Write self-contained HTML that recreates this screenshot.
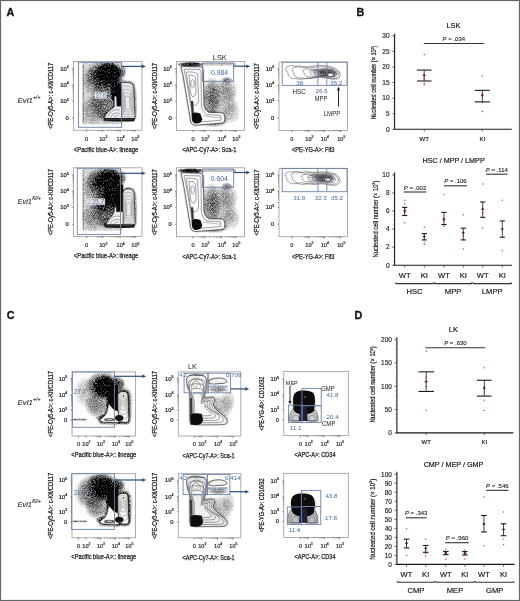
<!DOCTYPE html><html><head><meta charset="utf-8"><style>html,body{margin:0;padding:0;background:#fff;}svg{display:block;will-change:transform;filter:blur(0.3px);}text{font-family:"Liberation Sans",sans-serif;}</style></head><body>
<svg width="520" height="601" viewBox="0 0 520 601">
<defs>
<filter id="spk" x="0" y="0" width="1" height="1" color-interpolation-filters="sRGB">
<feTurbulence type="fractalNoise" baseFrequency="1.35" numOctaves="2" seed="7" result="n"/>
<feColorMatrix in="n" type="matrix" values="0 0 0 0 0  0 0 0 0 0  0 0 0 0 0  1.8 0 0 0 -0.4" result="na"/>
<feComposite in="SourceGraphic" in2="na" operator="arithmetic" k1="-1.1" k2="1.75" k3="0" k4="-0.08" result="c"/>
<feColorMatrix in="c" type="matrix" values="0 0 0 0 0  0 0 0 0 0  0 0 0 0 0  0 0 0 1 0"/>
</filter>
<radialGradient id="rg"><stop offset="0" stop-color="#000" stop-opacity="1"/><stop offset="0.55" stop-color="#000" stop-opacity="0.75"/><stop offset="1" stop-color="#000" stop-opacity="0"/></radialGradient>
<radialGradient id="rg2"><stop offset="0" stop-color="#000" stop-opacity="1"/><stop offset="0.6" stop-color="#000" stop-opacity="1"/><stop offset="1" stop-color="#000" stop-opacity="0"/></radialGradient>
<filter id="bl1" x="-20%" y="-20%" width="140%" height="140%"><feGaussianBlur stdDeviation="1"/></filter>
<filter id="bl2" x="-20%" y="-20%" width="140%" height="140%"><feGaussianBlur stdDeviation="2"/></filter>
<filter id="bl05" x="-20%" y="-20%" width="140%" height="140%"><feGaussianBlur stdDeviation="0.5"/></filter>
</defs>
<rect x="0" y="0" width="520" height="601" fill="#fff"/>
<text x="6.6" y="15.8" font-size="10.8" fill="#111" font-weight="bold" stroke="#111" stroke-width="0.3">A</text>
<text x="356.4" y="15.8" font-size="10.8" fill="#111" font-weight="bold" stroke="#111" stroke-width="0.3">B</text>
<text x="6.8" y="319.4" font-size="10.8" fill="#111" font-weight="bold" stroke="#111" stroke-width="0.3">C</text>
<text x="354.4" y="319.2" font-size="10.8" fill="#111" font-weight="bold" stroke="#111" stroke-width="0.3">D</text>
<clipPath id="cp1"><rect x="73.5" y="61.5" width="68.5" height="68.69999999999999"/></clipPath>
<g clip-path="url(#cp1)"><g filter="url(#spk)">
<rect x="82.5" y="62.5" width="40" height="62" fill="#000" opacity="0.2"/>
<rect x="82.5" y="63.0" width="1.4" height="60" fill="#000" opacity="0.25"/>
<ellipse cx="109" cy="74.0" rx="14" ry="12" fill="url(#rg2)" opacity="1.0"/>
<ellipse cx="106" cy="76.0" rx="20" ry="17" fill="url(#rg)" opacity="0.8"/>
<ellipse cx="115" cy="90.0" rx="5" ry="15" fill="url(#rg2)" opacity="1.0"/>
<ellipse cx="104" cy="100.0" rx="15" ry="22" fill="url(#rg)" opacity="0.45"/>
<ellipse cx="92" cy="80.0" rx="10" ry="16" fill="url(#rg)" opacity="0.3"/>
<ellipse cx="123" cy="71.0" rx="4" ry="7" fill="url(#rg)" opacity="0.45"/>
<ellipse cx="111" cy="116.0" rx="14" ry="7" fill="url(#rg)" opacity="0.45"/>
<ellipse cx="93" cy="110.0" rx="12" ry="15" fill="url(#rg)" opacity="0.3"/>
<ellipse cx="129" cy="100.0" rx="10" ry="24" fill="url(#rg)" opacity="0.3"/>
<path d="M 121.50 119.00 L 121.30 90.00 Q 120.50 84.00 121.00 83.00 Q 122.00 82.40 124.00 82.40 L 129.50 82.80 Q 133.00 83.20 133.60 87.00 L 135.00 116.00 Q 135.00 119.50 132.00 119.50 Z" fill="none" stroke="#000" stroke-width="2.2" opacity="0.6" filter="url(#bl1)"/>
<path d="M 104.30 119.40 Q 105.50 113.00 111.00 109.50 L 114.40 106.80 L 114.20 97.00 Q 115.40 95.00 116.60 97.00 L 116.90 106.20 L 121.50 106.00 L 121.50 119.40 Z" fill="none" stroke="#000" stroke-width="2.0" opacity="0.55" filter="url(#bl1)"/>
</g></g>
<path d="M 115.20 88.00 Q 116.00 84.00 119.50 83.50 L 121.50 84.00 L 121.50 106.50 L 116.80 106.50 L 116.60 96.00 Q 115.60 93.00 115.20 88.00 Z" fill="#0a0a0a"/>
<path d="M 121.50 119.00 L 121.30 90.00 Q 120.50 84.00 121.00 83.00 Q 122.00 82.40 124.00 82.40 L 129.50 82.80 Q 133.00 83.20 133.60 87.00 L 135.00 116.00 Q 135.00 119.50 132.00 119.50 Z" fill="#e9e9e9" stroke="#222" stroke-width="0.7"/>
<path d="M 104.30 119.40 Q 105.50 113.00 111.00 109.50 L 114.40 106.80 L 114.20 97.00 Q 115.40 95.00 116.60 97.00 L 116.90 106.20 L 121.50 106.00 L 121.50 119.40 Z" fill="#efefef" stroke="#222" stroke-width="0.6"/>
<path d="M 121.50 119.00 L 121.30 90.00 Q 120.50 84.00 121.00 83.00 Q 122.00 82.40 124.00 82.40 L 129.50 82.80 Q 133.00 83.20 133.60 87.00 L 135.00 116.00 Q 135.00 119.50 132.00 119.50 Z" fill="none" stroke="#777" stroke-width="0.45" vector-effect="non-scaling-stroke" transform="translate(127.50,104.00) scale(0.84) translate(-127.50,-104.00)"/>
<path d="M 121.50 119.00 L 121.30 90.00 Q 120.50 84.00 121.00 83.00 Q 122.00 82.40 124.00 82.40 L 129.50 82.80 Q 133.00 83.20 133.60 87.00 L 135.00 116.00 Q 135.00 119.50 132.00 119.50 Z" fill="none" stroke="#777" stroke-width="0.45" vector-effect="non-scaling-stroke" transform="translate(127.50,104.00) scale(0.68) translate(-127.50,-104.00)"/>
<path d="M 121.50 119.00 L 121.30 90.00 Q 120.50 84.00 121.00 83.00 Q 122.00 82.40 124.00 82.40 L 129.50 82.80 Q 133.00 83.20 133.60 87.00 L 135.00 116.00 Q 135.00 119.50 132.00 119.50 Z" fill="none" stroke="#777" stroke-width="0.45" vector-effect="non-scaling-stroke" transform="translate(127.50,104.00) scale(0.52) translate(-127.50,-104.00)"/>
<path d="M 121.50 119.00 L 121.30 90.00 Q 120.50 84.00 121.00 83.00 Q 122.00 82.40 124.00 82.40 L 129.50 82.80 Q 133.00 83.20 133.60 87.00 L 135.00 116.00 Q 135.00 119.50 132.00 119.50 Z" fill="none" stroke="#777" stroke-width="0.45" vector-effect="non-scaling-stroke" transform="translate(127.50,104.00) scale(0.36) translate(-127.50,-104.00)"/>
<path d="M 107.50 117.50 Q 109.00 112.00 114.00 110.00 Q 118.00 109.50 120.00 110.00" fill="none" stroke="#555" stroke-width="0.5"/>
<path d="M 110.50 117.50 Q 112.00 113.50 116.00 113.00 Q 119.00 113.00 120.00 114.00" fill="none" stroke="#555" stroke-width="0.5"/>
<path d="M 114.00 117.60 Q 115.50 115.50 118.00 115.50" fill="none" stroke="#555" stroke-width="0.5"/>
<path d="M 104.50 118.00 L 134.50 118.00 L 134.50 121.20 Q 120.00 122.20 104.50 120.60 Z" fill="#151515"/>
<path d="M 106.00 119.30 L 133.00 119.30" stroke="#777" stroke-width="0.4"/>
<rect x="73.5" y="61.5" width="68.5" height="68.69999999999999" fill="none" stroke="#9a9a9a" stroke-width="0.8"/>
<text x="68.70" y="70.69" font-size="5.8" fill="#222" stroke="#222" stroke-width="0.22" text-anchor="end">10<tspan font-size="3.60" dy="-2.44">5</tspan></text>
<line x1="72.0" y1="68.6" x2="73.5" y2="68.6" stroke="#555" stroke-width="0.6"/>
<text x="68.70" y="86.89" font-size="5.8" fill="#222" stroke="#222" stroke-width="0.22" text-anchor="end">10<tspan font-size="3.60" dy="-2.44">4</tspan></text>
<line x1="72.0" y1="84.8" x2="73.5" y2="84.8" stroke="#555" stroke-width="0.6"/>
<text x="68.70" y="103.09" font-size="5.8" fill="#222" stroke="#222" stroke-width="0.22" text-anchor="end">10<tspan font-size="3.60" dy="-2.44">3</tspan></text>
<line x1="72.0" y1="101.0" x2="73.5" y2="101.0" stroke="#555" stroke-width="0.6"/>
<text x="68.7" y="120.088" font-size="5.8" fill="#222" text-anchor="end" stroke="#222" stroke-width="0.22">0</text>
<line x1="72.0" y1="118.0" x2="73.5" y2="118.0" stroke="#555" stroke-width="0.6"/>
<text x="86.6" y="140.61599999999999" font-size="5.6" fill="#333" text-anchor="middle" stroke="#333" stroke-width="0.22">0</text>
<line x1="86.6" y1="130.2" x2="86.6" y2="131.79999999999998" stroke="#444" stroke-width="0.7"/>
<text x="99.15" y="140.62" font-size="5.6" fill="#333" stroke="#333" stroke-width="0.22">10<tspan font-size="3.36" dy="-2.35">3</tspan></text>
<line x1="102.8" y1="130.2" x2="102.8" y2="131.79999999999998" stroke="#444" stroke-width="0.7"/>
<text x="116.55" y="140.62" font-size="5.6" fill="#333" stroke="#333" stroke-width="0.22">10<tspan font-size="3.36" dy="-2.35">4</tspan></text>
<line x1="120.2" y1="130.2" x2="120.2" y2="131.79999999999998" stroke="#444" stroke-width="0.7"/>
<text x="131.35" y="140.62" font-size="5.6" fill="#333" stroke="#333" stroke-width="0.22">10<tspan font-size="3.36" dy="-2.35">5</tspan></text>
<line x1="135" y1="130.2" x2="135" y2="131.79999999999998" stroke="#444" stroke-width="0.7"/>
<path d="M108.04,130.20v1 M111.10,130.20v1 M113.28,130.20v1 M114.96,130.20v1 M116.34,130.20v1 M117.50,130.20v1 M118.51,130.20v1 M119.40,130.20v1 M73.50,96.12h-1 M73.50,93.27h-1 M73.50,91.25h-1 M73.50,89.68h-1 M73.50,88.39h-1 M73.50,87.31h-1 M73.50,86.37h-1 M73.50,85.54h-1 M124.66,130.20v1 M127.26,130.20v1 M129.11,130.20v1 M130.54,130.20v1 M131.72,130.20v1 M132.71,130.20v1 M133.57,130.20v1 M134.32,130.20v1 M73.50,79.92h-1 M73.50,77.07h-1 M73.50,75.05h-1 M73.50,73.48h-1 M73.50,72.19h-1 M73.50,71.11h-1 M73.50,70.17h-1 M73.50,69.34h-1 M97.56,130.20v1 M98.94,130.20v1 M100.10,130.20v1 M101.11,130.20v1 M102.00,130.20v1" stroke="#555" stroke-width="0.5" fill="none"/>
<text x="106.05" y="151.5" font-size="7.0" fill="#1a1a1a" text-anchor="middle" textLength="64.4" lengthAdjust="spacingAndGlyphs" stroke="#1a1a1a" stroke-width="0.25">&lt;Pacific blue-A&gt;: lineage</text>
<text transform="translate(50.80,95.85) rotate(-90)" x="0" y="2.38" font-size="6.6" fill="#1a1a1a" stroke="#1a1a1a" stroke-width="0.25" text-anchor="middle" textLength="66" lengthAdjust="spacingAndGlyphs">&lt;PE-Cy5-A&gt;: c-Kit/CD117</text>
<clipPath id="cp2"><rect x="176.5" y="61.5" width="68.0" height="68.9"/></clipPath>
<g clip-path="url(#cp2)"><g filter="url(#spk)">
<ellipse cx="211" cy="98.0" rx="10" ry="24" fill="url(#rg)" opacity="0.45"/>
<ellipse cx="221" cy="100.0" rx="17" ry="25" fill="url(#rg)" opacity="0.3"/>
<ellipse cx="228" cy="90.0" rx="12" ry="14" fill="url(#rg)" opacity="0.25"/>
<ellipse cx="232" cy="112.0" rx="10" ry="14" fill="url(#rg)" opacity="0.25"/>
<ellipse cx="214" cy="121.0" rx="16" ry="7" fill="url(#rg)" opacity="0.4"/>
<ellipse cx="227" cy="80.0" rx="6" ry="4" fill="url(#rg)" opacity="0.4"/>
<rect x="178" y="62.5" width="58" height="3.2" fill="#000" opacity="0.25"/>
<ellipse cx="191" cy="64.5" rx="14" ry="2.8" fill="url(#rg)" opacity="0.9"/>
<path d="M 181.20 66.50 L 201.50 67.00 Q 203.40 68.00 203.30 72.00 L 203.90 105.00 Q 204.60 110.50 209.00 112.40 L 222.00 112.80 Q 225.00 113.80 224.90 118.00 L 224.60 121.00 Q 224.20 123.20 220.50 123.20 L 196.00 125.20 Q 191.60 125.40 190.60 121.00 L 183.00 75.00 Q 181.00 69.00 181.20 66.50 Z" fill="none" stroke="#000" stroke-width="1.5" opacity="0.4" filter="url(#bl1)"/>
</g></g>
<path d="M 181.20 66.50 L 201.50 67.00 Q 203.40 68.00 203.30 72.00 L 203.90 105.00 Q 204.60 110.50 209.00 112.40 L 222.00 112.80 Q 225.00 113.80 224.90 118.00 L 224.60 121.00 Q 224.20 123.20 220.50 123.20 L 196.00 125.20 Q 191.60 125.40 190.60 121.00 L 183.00 75.00 Q 181.00 69.00 181.20 66.50 Z" fill="#fbfbfb" stroke="#222" stroke-width="0.65"/>
<path d="M 184.00 69.20 L 199.80 69.60 Q 201.00 70.50 201.00 74.00 L 201.40 105.00 Q 202.00 111.50 207.00 114.60 L 220.60 115.40 L 221.00 120.20 L 197.00 122.30 Q 193.60 122.30 193.00 118.50 L 185.60 76.00 Q 184.20 71.00 184.00 69.20 Z" fill="none" stroke="#555" stroke-width="0.55"/>
<path d="M 186.60 72.00 Q 195.00 71.40 197.60 74.00 L 198.60 100.00 Q 198.20 105.00 195.00 105.40 Q 191.20 105.00 190.60 100.00 L 186.90 78.00 Z" fill="none" stroke="#555" stroke-width="0.55"/>
<path d="M 189.00 75.20 Q 194.00 74.20 195.60 78.00 L 196.00 93.00 Q 195.20 97.00 193.00 97.00 Q 190.60 96.00 190.30 91.00 Z" fill="none" stroke="#555" stroke-width="0.55"/>
<ellipse cx="192.6" cy="83.5" rx="1.8" ry="4" fill="none" stroke="#555" stroke-width="0.55"/>
<path d="M 191.50 113.50 Q 195.00 111.60 200.40 113.80 L 202.30 119.20 Q 201.50 123.40 196.20 123.60 Q 192.20 123.60 191.80 118.60 Z" fill="#0d0d0d"/>
<path d="M 190.80 101.00 L 193.20 101.00 L 193.80 113.00 L 191.60 113.00 Z" fill="#333"/>
<path d="M 203.00 115.50 Q 212.00 117.40 220.00 117.80" fill="none" stroke="#777" stroke-width="0.5"/>
<rect x="176.5" y="61.5" width="68.0" height="68.9" fill="none" stroke="#9a9a9a" stroke-width="0.8"/>
<text x="171.70" y="70.69" font-size="5.8" fill="#222" stroke="#222" stroke-width="0.22" text-anchor="end">10<tspan font-size="3.60" dy="-2.44">5</tspan></text>
<line x1="175.0" y1="68.6" x2="176.5" y2="68.6" stroke="#555" stroke-width="0.6"/>
<text x="171.70" y="86.89" font-size="5.8" fill="#222" stroke="#222" stroke-width="0.22" text-anchor="end">10<tspan font-size="3.60" dy="-2.44">4</tspan></text>
<line x1="175.0" y1="84.8" x2="176.5" y2="84.8" stroke="#555" stroke-width="0.6"/>
<text x="171.70" y="103.09" font-size="5.8" fill="#222" stroke="#222" stroke-width="0.22" text-anchor="end">10<tspan font-size="3.60" dy="-2.44">3</tspan></text>
<line x1="175.0" y1="101.0" x2="176.5" y2="101.0" stroke="#555" stroke-width="0.6"/>
<text x="171.7" y="120.088" font-size="5.8" fill="#222" text-anchor="end" stroke="#222" stroke-width="0.22">0</text>
<line x1="175.0" y1="118.0" x2="176.5" y2="118.0" stroke="#555" stroke-width="0.6"/>
<text x="193" y="140.516" font-size="5.6" fill="#333" text-anchor="middle" stroke="#333" stroke-width="0.22">0</text>
<line x1="193" y1="130.4" x2="193" y2="132.0" stroke="#444" stroke-width="0.7"/>
<text x="201.35" y="140.52" font-size="5.6" fill="#333" stroke="#333" stroke-width="0.22">10<tspan font-size="3.36" dy="-2.35">3</tspan></text>
<line x1="205" y1="130.4" x2="205" y2="132.0" stroke="#444" stroke-width="0.7"/>
<text x="217.85" y="140.52" font-size="5.6" fill="#333" stroke="#333" stroke-width="0.22">10<tspan font-size="3.36" dy="-2.35">4</tspan></text>
<line x1="221.5" y1="130.4" x2="221.5" y2="132.0" stroke="#444" stroke-width="0.7"/>
<text x="232.35" y="140.52" font-size="5.6" fill="#333" stroke="#333" stroke-width="0.22">10<tspan font-size="3.36" dy="-2.35">5</tspan></text>
<line x1="236" y1="130.4" x2="236" y2="132.0" stroke="#444" stroke-width="0.7"/>
<path d="M209.97,130.40v1 M212.87,130.40v1 M214.93,130.40v1 M216.53,130.40v1 M217.84,130.40v1 M218.94,130.40v1 M219.90,130.40v1 M220.75,130.40v1 M176.50,96.12h-1 M176.50,93.27h-1 M176.50,91.25h-1 M176.50,89.68h-1 M176.50,88.39h-1 M176.50,87.31h-1 M176.50,86.37h-1 M176.50,85.54h-1 M225.86,130.40v1 M228.42,130.40v1 M230.23,130.40v1 M231.64,130.40v1 M232.78,130.40v1 M233.75,130.40v1 M234.59,130.40v1 M235.34,130.40v1 M176.50,79.92h-1 M176.50,77.07h-1 M176.50,75.05h-1 M176.50,73.48h-1 M176.50,72.19h-1 M176.50,71.11h-1 M176.50,70.17h-1 M176.50,69.34h-1 M200.03,130.40v1 M201.34,130.40v1 M202.44,130.40v1 M203.40,130.40v1 M204.25,130.40v1" stroke="#555" stroke-width="0.5" fill="none"/>
<text x="209.4" y="152.1" font-size="7.0" fill="#1a1a1a" text-anchor="middle" textLength="54" lengthAdjust="spacingAndGlyphs" stroke="#1a1a1a" stroke-width="0.25">&lt;APC-Cy7-A&gt;: Sca-1</text>
<text transform="translate(154.40,95.95) rotate(-90)" x="0" y="2.38" font-size="6.6" fill="#1a1a1a" stroke="#1a1a1a" stroke-width="0.25" text-anchor="middle" textLength="66" lengthAdjust="spacingAndGlyphs">&lt;PE-Cy5-A&gt;: c-Kit/CD117</text>
<clipPath id="cp3"><rect x="279" y="62.0" width="68.5" height="68.4"/></clipPath>
<g clip-path="url(#cp3)"><g filter="url(#spk)">
<ellipse cx="328" cy="73.0" rx="12" ry="6" fill="url(#rg)" opacity="0.6"/>
<ellipse cx="318" cy="72.0" rx="9" ry="5" fill="url(#rg)" opacity="0.3"/>
</g></g>
<path d="M 285.60 69.00 Q 286.00 65.60 290.00 66.00 Q 293.00 64.60 296.00 66.60 Q 300.00 65.00 304.00 67.00 L 312.00 66.20 Q 320.00 64.60 328.00 66.00 Q 336.00 67.60 339.50 72.00 Q 341.50 76.50 338.00 78.80 Q 333.00 80.20 327.00 78.20 L 318.00 77.20 Q 310.00 79.20 305.00 78.60 Q 299.00 80.20 296.00 78.60 Q 292.00 79.60 290.00 77.20 Q 287.00 75.00 288.00 72.40 Q 285.60 71.00 285.60 69.00 Z" fill="none" stroke="#555" stroke-width="0.55"/>
<path d="M 285.60 69.00 Q 286.00 65.60 290.00 66.00 Q 293.00 64.60 296.00 66.60 Q 300.00 65.00 304.00 67.00 L 312.00 66.20 Q 320.00 64.60 328.00 66.00 Q 336.00 67.60 339.50 72.00 Q 341.50 76.50 338.00 78.80 Q 333.00 80.20 327.00 78.20 L 318.00 77.20 Q 310.00 79.20 305.00 78.60 Q 299.00 80.20 296.00 78.60 Q 292.00 79.60 290.00 77.20 Q 287.00 75.00 288.00 72.40 Q 285.60 71.00 285.60 69.00 Z" fill="none" stroke="#444" stroke-width="0.5" vector-effect="non-scaling-stroke" transform="translate(331.00,74.00) scale(0.86) translate(-331.00,-74.00)"/>
<path d="M 285.60 69.00 Q 286.00 65.60 290.00 66.00 Q 293.00 64.60 296.00 66.60 Q 300.00 65.00 304.00 67.00 L 312.00 66.20 Q 320.00 64.60 328.00 66.00 Q 336.00 67.60 339.50 72.00 Q 341.50 76.50 338.00 78.80 Q 333.00 80.20 327.00 78.20 L 318.00 77.20 Q 310.00 79.20 305.00 78.60 Q 299.00 80.20 296.00 78.60 Q 292.00 79.60 290.00 77.20 Q 287.00 75.00 288.00 72.40 Q 285.60 71.00 285.60 69.00 Z" fill="none" stroke="#444" stroke-width="0.5" vector-effect="non-scaling-stroke" transform="translate(331.00,74.00) scale(0.62) translate(-331.00,-74.00)"/>
<path d="M 285.60 69.00 Q 286.00 65.60 290.00 66.00 Q 293.00 64.60 296.00 66.60 Q 300.00 65.00 304.00 67.00 L 312.00 66.20 Q 320.00 64.60 328.00 66.00 Q 336.00 67.60 339.50 72.00 Q 341.50 76.50 338.00 78.80 Q 333.00 80.20 327.00 78.20 L 318.00 77.20 Q 310.00 79.20 305.00 78.60 Q 299.00 80.20 296.00 78.60 Q 292.00 79.60 290.00 77.20 Q 287.00 75.00 288.00 72.40 Q 285.60 71.00 285.60 69.00 Z" fill="none" stroke="#444" stroke-width="0.5" vector-effect="non-scaling-stroke" transform="translate(331.00,74.00) scale(0.47) translate(-331.00,-74.00)"/>
<path d="M 285.60 69.00 Q 286.00 65.60 290.00 66.00 Q 293.00 64.60 296.00 66.60 Q 300.00 65.00 304.00 67.00 L 312.00 66.20 Q 320.00 64.60 328.00 66.00 Q 336.00 67.60 339.50 72.00 Q 341.50 76.50 338.00 78.80 Q 333.00 80.20 327.00 78.20 L 318.00 77.20 Q 310.00 79.20 305.00 78.60 Q 299.00 80.20 296.00 78.60 Q 292.00 79.60 290.00 77.20 Q 287.00 75.00 288.00 72.40 Q 285.60 71.00 285.60 69.00 Z" fill="none" stroke="#444" stroke-width="0.5" vector-effect="non-scaling-stroke" transform="translate(331.00,74.00) scale(0.37) translate(-331.00,-74.00)"/>
<path d="M 285.60 69.00 Q 286.00 65.60 290.00 66.00 Q 293.00 64.60 296.00 66.60 Q 300.00 65.00 304.00 67.00 L 312.00 66.20 Q 320.00 64.60 328.00 66.00 Q 336.00 67.60 339.50 72.00 Q 341.50 76.50 338.00 78.80 Q 333.00 80.20 327.00 78.20 L 318.00 77.20 Q 310.00 79.20 305.00 78.60 Q 299.00 80.20 296.00 78.60 Q 292.00 79.60 290.00 77.20 Q 287.00 75.00 288.00 72.40 Q 285.60 71.00 285.60 69.00 Z" fill="none" stroke="#444" stroke-width="0.5" vector-effect="non-scaling-stroke" transform="translate(331.00,74.00) scale(0.29) translate(-331.00,-74.00)"/>
<path d="M 285.60 69.00 Q 286.00 65.60 290.00 66.00 Q 293.00 64.60 296.00 66.60 Q 300.00 65.00 304.00 67.00 L 312.00 66.20 Q 320.00 64.60 328.00 66.00 Q 336.00 67.60 339.50 72.00 Q 341.50 76.50 338.00 78.80 Q 333.00 80.20 327.00 78.20 L 318.00 77.20 Q 310.00 79.20 305.00 78.60 Q 299.00 80.20 296.00 78.60 Q 292.00 79.60 290.00 77.20 Q 287.00 75.00 288.00 72.40 Q 285.60 71.00 285.60 69.00 Z" fill="none" stroke="#444" stroke-width="0.5" vector-effect="non-scaling-stroke" transform="translate(331.00,74.00) scale(0.23) translate(-331.00,-74.00)"/>
<path d="M 285.60 69.00 Q 286.00 65.60 290.00 66.00 Q 293.00 64.60 296.00 66.60 Q 300.00 65.00 304.00 67.00 L 312.00 66.20 Q 320.00 64.60 328.00 66.00 Q 336.00 67.60 339.50 72.00 Q 341.50 76.50 338.00 78.80 Q 333.00 80.20 327.00 78.20 L 318.00 77.20 Q 310.00 79.20 305.00 78.60 Q 299.00 80.20 296.00 78.60 Q 292.00 79.60 290.00 77.20 Q 287.00 75.00 288.00 72.40 Q 285.60 71.00 285.60 69.00 Z" fill="none" stroke="#444" stroke-width="0.5" vector-effect="non-scaling-stroke" transform="translate(331.00,74.00) scale(0.18) translate(-331.00,-74.00)"/>
<path d="M 285.60 69.00 Q 286.00 65.60 290.00 66.00 Q 293.00 64.60 296.00 66.60 Q 300.00 65.00 304.00 67.00 L 312.00 66.20 Q 320.00 64.60 328.00 66.00 Q 336.00 67.60 339.50 72.00 Q 341.50 76.50 338.00 78.80 Q 333.00 80.20 327.00 78.20 L 318.00 77.20 Q 310.00 79.20 305.00 78.60 Q 299.00 80.20 296.00 78.60 Q 292.00 79.60 290.00 77.20 Q 287.00 75.00 288.00 72.40 Q 285.60 71.00 285.60 69.00 Z" fill="none" stroke="#444" stroke-width="0.5" vector-effect="non-scaling-stroke" transform="translate(331.00,74.00) scale(0.14) translate(-331.00,-74.00)"/>
<ellipse cx="330.5" cy="74.8" rx="2.6" ry="1.2" fill="#fff"/>
<rect x="279" y="62.0" width="68.5" height="68.4" fill="none" stroke="#9a9a9a" stroke-width="0.8"/>
<text x="274.20" y="70.69" font-size="5.8" fill="#222" stroke="#222" stroke-width="0.22" text-anchor="end">10<tspan font-size="3.60" dy="-2.44">5</tspan></text>
<line x1="277.5" y1="68.6" x2="279" y2="68.6" stroke="#555" stroke-width="0.6"/>
<text x="274.20" y="86.89" font-size="5.8" fill="#222" stroke="#222" stroke-width="0.22" text-anchor="end">10<tspan font-size="3.60" dy="-2.44">4</tspan></text>
<line x1="277.5" y1="84.8" x2="279" y2="84.8" stroke="#555" stroke-width="0.6"/>
<text x="274.20" y="103.09" font-size="5.8" fill="#222" stroke="#222" stroke-width="0.22" text-anchor="end">10<tspan font-size="3.60" dy="-2.44">3</tspan></text>
<line x1="277.5" y1="101.0" x2="279" y2="101.0" stroke="#555" stroke-width="0.6"/>
<text x="274.2" y="120.088" font-size="5.8" fill="#222" text-anchor="end" stroke="#222" stroke-width="0.22">0</text>
<line x1="277.5" y1="118.0" x2="279" y2="118.0" stroke="#555" stroke-width="0.6"/>
<text x="291.7" y="140.516" font-size="5.6" fill="#333" text-anchor="middle" stroke="#333" stroke-width="0.22">0</text>
<line x1="291.7" y1="130.4" x2="291.7" y2="132.0" stroke="#444" stroke-width="0.7"/>
<text x="305.35" y="140.52" font-size="5.6" fill="#333" stroke="#333" stroke-width="0.22">10<tspan font-size="3.36" dy="-2.35">3</tspan></text>
<line x1="309" y1="130.4" x2="309" y2="132.0" stroke="#444" stroke-width="0.7"/>
<text x="320.75" y="140.52" font-size="5.6" fill="#333" stroke="#333" stroke-width="0.22">10<tspan font-size="3.36" dy="-2.35">4</tspan></text>
<line x1="324.4" y1="130.4" x2="324.4" y2="132.0" stroke="#444" stroke-width="0.7"/>
<text x="337.15" y="140.52" font-size="5.6" fill="#333" stroke="#333" stroke-width="0.22">10<tspan font-size="3.36" dy="-2.35">5</tspan></text>
<line x1="340.8" y1="130.4" x2="340.8" y2="132.0" stroke="#444" stroke-width="0.7"/>
<path d="M313.64,130.40v1 M316.35,130.40v1 M318.27,130.40v1 M319.76,130.40v1 M320.98,130.40v1 M322.01,130.40v1 M322.91,130.40v1 M323.70,130.40v1 M279.00,96.12h-1 M279.00,93.27h-1 M279.00,91.25h-1 M279.00,89.68h-1 M279.00,88.39h-1 M279.00,87.31h-1 M279.00,86.37h-1 M279.00,85.54h-1 M329.34,130.40v1 M332.22,130.40v1 M334.27,130.40v1 M335.86,130.40v1 M337.16,130.40v1 M338.26,130.40v1 M339.21,130.40v1 M340.05,130.40v1 M279.00,79.92h-1 M279.00,77.07h-1 M279.00,75.05h-1 M279.00,73.48h-1 M279.00,72.19h-1 M279.00,71.11h-1 M279.00,70.17h-1 M279.00,69.34h-1 M304.36,130.40v1 M305.58,130.40v1 M306.61,130.40v1 M307.51,130.40v1 M308.30,130.40v1" stroke="#555" stroke-width="0.5" fill="none"/>
<text x="313.25" y="152.1" font-size="7.0" fill="#1a1a1a" text-anchor="middle" textLength="42.5" lengthAdjust="spacingAndGlyphs" stroke="#1a1a1a" stroke-width="0.25">&lt;PE-YG-A&gt;: Flt3</text>
<text transform="translate(256.50,96.20) rotate(-90)" x="0" y="2.38" font-size="6.6" fill="#1a1a1a" stroke="#1a1a1a" stroke-width="0.25" text-anchor="middle" textLength="66" lengthAdjust="spacingAndGlyphs">&lt;PE-Cy5-A&gt;: c-Kit/CD117</text>
<clipPath id="cp4"><rect x="73.5" y="167.8" width="68.5" height="68.69999999999999"/></clipPath>
<g clip-path="url(#cp4)"><g filter="url(#spk)">
<rect x="82.5" y="168.8" width="40" height="62" fill="#000" opacity="0.2"/>
<rect x="82.5" y="169.3" width="1.4" height="60" fill="#000" opacity="0.25"/>
<ellipse cx="109" cy="180.3" rx="14" ry="12" fill="url(#rg2)" opacity="1.0"/>
<ellipse cx="106" cy="182.3" rx="20" ry="17" fill="url(#rg)" opacity="0.8"/>
<ellipse cx="115" cy="196.3" rx="5" ry="15" fill="url(#rg2)" opacity="1.0"/>
<ellipse cx="104" cy="206.3" rx="15" ry="22" fill="url(#rg)" opacity="0.45"/>
<ellipse cx="92" cy="186.3" rx="10" ry="16" fill="url(#rg)" opacity="0.3"/>
<ellipse cx="123" cy="177.3" rx="4" ry="7" fill="url(#rg)" opacity="0.45"/>
<ellipse cx="111" cy="222.3" rx="14" ry="7" fill="url(#rg)" opacity="0.45"/>
<ellipse cx="93" cy="216.3" rx="12" ry="15" fill="url(#rg)" opacity="0.3"/>
<ellipse cx="129" cy="206.3" rx="10" ry="24" fill="url(#rg)" opacity="0.3"/>
<path d="M 123.00 225.80 L 122.80 193.30 Q 123.30 189.10 127.00 188.90 L 130.50 189.10 Q 133.60 189.80 134.00 193.30 L 135.20 222.30 Q 135.20 225.90 132.00 225.90 Z" fill="none" stroke="#000" stroke-width="2.2" opacity="0.6" filter="url(#bl1)"/>
<path d="M 105.50 225.70 Q 107.00 219.80 112.00 215.80 L 114.20 211.90 L 114.40 207.80 Q 115.30 206.30 116.30 207.80 L 116.50 211.70 L 123.00 211.50 L 123.00 225.70 Z" fill="none" stroke="#000" stroke-width="2.0" opacity="0.55" filter="url(#bl1)"/>
<ellipse cx="112" cy="194.3" rx="9" ry="14" fill="url(#rg2)" opacity="1.0"/>
<ellipse cx="106" cy="202.3" rx="12" ry="14" fill="url(#rg)" opacity="0.6"/>
</g></g>
<path d="M 114.50 198.30 Q 115.00 186.30 120.00 184.30 L 123.20 184.80 L 123.20 212.30 L 116.60 212.30 L 116.40 206.30 Q 114.80 203.30 114.50 198.30 Z" fill="#0a0a0a"/>
<path d="M 123.00 225.80 L 122.80 193.30 Q 123.30 189.10 127.00 188.90 L 130.50 189.10 Q 133.60 189.80 134.00 193.30 L 135.20 222.30 Q 135.20 225.90 132.00 225.90 Z" fill="#e9e9e9" stroke="#222" stroke-width="0.7"/>
<path d="M 105.50 225.70 Q 107.00 219.80 112.00 215.80 L 114.20 211.90 L 114.40 207.80 Q 115.30 206.30 116.30 207.80 L 116.50 211.70 L 123.00 211.50 L 123.00 225.70 Z" fill="#efefef" stroke="#222" stroke-width="0.6"/>
<path d="M 123.00 225.80 L 122.80 193.30 Q 123.30 189.10 127.00 188.90 L 130.50 189.10 Q 133.60 189.80 134.00 193.30 L 135.20 222.30 Q 135.20 225.90 132.00 225.90 Z" fill="none" stroke="#777" stroke-width="0.45" vector-effect="non-scaling-stroke" transform="translate(128.80,210.30) scale(0.84) translate(-128.80,-210.30)"/>
<path d="M 123.00 225.80 L 122.80 193.30 Q 123.30 189.10 127.00 188.90 L 130.50 189.10 Q 133.60 189.80 134.00 193.30 L 135.20 222.30 Q 135.20 225.90 132.00 225.90 Z" fill="none" stroke="#777" stroke-width="0.45" vector-effect="non-scaling-stroke" transform="translate(128.80,210.30) scale(0.68) translate(-128.80,-210.30)"/>
<path d="M 123.00 225.80 L 122.80 193.30 Q 123.30 189.10 127.00 188.90 L 130.50 189.10 Q 133.60 189.80 134.00 193.30 L 135.20 222.30 Q 135.20 225.90 132.00 225.90 Z" fill="none" stroke="#777" stroke-width="0.45" vector-effect="non-scaling-stroke" transform="translate(128.80,210.30) scale(0.52) translate(-128.80,-210.30)"/>
<path d="M 123.00 225.80 L 122.80 193.30 Q 123.30 189.10 127.00 188.90 L 130.50 189.10 Q 133.60 189.80 134.00 193.30 L 135.20 222.30 Q 135.20 225.90 132.00 225.90 Z" fill="none" stroke="#777" stroke-width="0.45" vector-effect="non-scaling-stroke" transform="translate(128.80,210.30) scale(0.36) translate(-128.80,-210.30)"/>
<path d="M 107.50 223.80 Q 109.00 218.30 114.00 216.30 Q 118.00 215.80 120.00 216.30" fill="none" stroke="#555" stroke-width="0.5"/>
<path d="M 110.50 223.80 Q 112.00 219.80 116.00 219.30 Q 119.00 219.30 120.00 220.30" fill="none" stroke="#555" stroke-width="0.5"/>
<path d="M 114.00 223.90 Q 115.50 221.80 118.00 221.80" fill="none" stroke="#555" stroke-width="0.5"/>
<path d="M 104.50 224.30 L 134.50 224.30 L 134.50 227.50 Q 120.00 228.50 104.50 226.90 Z" fill="#151515"/>
<path d="M 106.00 225.60 L 133.00 225.60" stroke="#777" stroke-width="0.4"/>
<rect x="73.5" y="167.8" width="68.5" height="68.69999999999999" fill="none" stroke="#9a9a9a" stroke-width="0.8"/>
<text x="68.70" y="176.99" font-size="5.8" fill="#222" stroke="#222" stroke-width="0.22" text-anchor="end">10<tspan font-size="3.60" dy="-2.44">5</tspan></text>
<line x1="72.0" y1="174.89999999999998" x2="73.5" y2="174.89999999999998" stroke="#555" stroke-width="0.6"/>
<text x="68.70" y="193.19" font-size="5.8" fill="#222" stroke="#222" stroke-width="0.22" text-anchor="end">10<tspan font-size="3.60" dy="-2.44">4</tspan></text>
<line x1="72.0" y1="191.1" x2="73.5" y2="191.1" stroke="#555" stroke-width="0.6"/>
<text x="68.70" y="209.39" font-size="5.8" fill="#222" stroke="#222" stroke-width="0.22" text-anchor="end">10<tspan font-size="3.60" dy="-2.44">3</tspan></text>
<line x1="72.0" y1="207.3" x2="73.5" y2="207.3" stroke="#555" stroke-width="0.6"/>
<text x="68.7" y="226.388" font-size="5.8" fill="#222" text-anchor="end" stroke="#222" stroke-width="0.22">0</text>
<line x1="72.0" y1="224.3" x2="73.5" y2="224.3" stroke="#555" stroke-width="0.6"/>
<text x="86.6" y="246.91599999999997" font-size="5.6" fill="#333" text-anchor="middle" stroke="#333" stroke-width="0.22">0</text>
<line x1="86.6" y1="236.5" x2="86.6" y2="238.1" stroke="#444" stroke-width="0.7"/>
<text x="99.15" y="246.92" font-size="5.6" fill="#333" stroke="#333" stroke-width="0.22">10<tspan font-size="3.36" dy="-2.35">3</tspan></text>
<line x1="102.8" y1="236.5" x2="102.8" y2="238.1" stroke="#444" stroke-width="0.7"/>
<text x="116.55" y="246.92" font-size="5.6" fill="#333" stroke="#333" stroke-width="0.22">10<tspan font-size="3.36" dy="-2.35">4</tspan></text>
<line x1="120.2" y1="236.5" x2="120.2" y2="238.1" stroke="#444" stroke-width="0.7"/>
<text x="131.35" y="246.92" font-size="5.6" fill="#333" stroke="#333" stroke-width="0.22">10<tspan font-size="3.36" dy="-2.35">5</tspan></text>
<line x1="135" y1="236.5" x2="135" y2="238.1" stroke="#444" stroke-width="0.7"/>
<path d="M108.04,236.50v1 M111.10,236.50v1 M113.28,236.50v1 M114.96,236.50v1 M116.34,236.50v1 M117.50,236.50v1 M118.51,236.50v1 M119.40,236.50v1 M73.50,202.42h-1 M73.50,199.57h-1 M73.50,197.55h-1 M73.50,195.98h-1 M73.50,194.69h-1 M73.50,193.61h-1 M73.50,192.67h-1 M73.50,191.84h-1 M124.66,236.50v1 M127.26,236.50v1 M129.11,236.50v1 M130.54,236.50v1 M131.72,236.50v1 M132.71,236.50v1 M133.57,236.50v1 M134.32,236.50v1 M73.50,186.22h-1 M73.50,183.37h-1 M73.50,181.35h-1 M73.50,179.78h-1 M73.50,178.49h-1 M73.50,177.41h-1 M73.50,176.47h-1 M73.50,175.64h-1 M97.56,236.50v1 M98.94,236.50v1 M100.10,236.50v1 M101.11,236.50v1 M102.00,236.50v1" stroke="#555" stroke-width="0.5" fill="none"/>
<text x="106.05" y="258.2" font-size="7.0" fill="#1a1a1a" text-anchor="middle" textLength="64.4" lengthAdjust="spacingAndGlyphs" stroke="#1a1a1a" stroke-width="0.25">&lt;Pacific blue-A&gt;: lineage</text>
<text transform="translate(50.80,202.15) rotate(-90)" x="0" y="2.38" font-size="6.6" fill="#1a1a1a" stroke="#1a1a1a" stroke-width="0.25" text-anchor="middle" textLength="66" lengthAdjust="spacingAndGlyphs">&lt;PE-Cy5-A&gt;: c-Kit/CD117</text>
<clipPath id="cp5"><rect x="176.5" y="167.8" width="68.0" height="68.89999999999998"/></clipPath>
<g clip-path="url(#cp5)"><g filter="url(#spk)">
<ellipse cx="211" cy="204.3" rx="10" ry="24" fill="url(#rg)" opacity="0.45"/>
<ellipse cx="221" cy="206.3" rx="17" ry="25" fill="url(#rg)" opacity="0.3"/>
<ellipse cx="228" cy="196.3" rx="12" ry="14" fill="url(#rg)" opacity="0.25"/>
<ellipse cx="232" cy="218.3" rx="10" ry="14" fill="url(#rg)" opacity="0.25"/>
<ellipse cx="214" cy="227.3" rx="16" ry="7" fill="url(#rg)" opacity="0.4"/>
<ellipse cx="227" cy="186.3" rx="6" ry="4" fill="url(#rg)" opacity="0.4"/>
<rect x="178" y="168.8" width="58" height="3.2" fill="#000" opacity="0.25"/>
<ellipse cx="191" cy="170.8" rx="14" ry="2.8" fill="url(#rg)" opacity="0.9"/>
<path d="M 181.20 172.80 L 201.50 173.30 Q 203.40 174.30 203.30 178.30 L 203.90 211.30 Q 204.60 216.80 209.00 218.70 L 222.00 219.10 Q 225.00 220.10 224.90 224.30 L 224.60 227.30 Q 224.20 229.50 220.50 229.50 L 196.00 231.50 Q 191.60 231.70 190.60 227.30 L 183.00 181.30 Q 181.00 175.30 181.20 172.80 Z" fill="none" stroke="#000" stroke-width="1.5" opacity="0.4" filter="url(#bl1)"/>
</g></g>
<path d="M 181.20 172.80 L 201.50 173.30 Q 203.40 174.30 203.30 178.30 L 203.90 211.30 Q 204.60 216.80 209.00 218.70 L 222.00 219.10 Q 225.00 220.10 224.90 224.30 L 224.60 227.30 Q 224.20 229.50 220.50 229.50 L 196.00 231.50 Q 191.60 231.70 190.60 227.30 L 183.00 181.30 Q 181.00 175.30 181.20 172.80 Z" fill="#fbfbfb" stroke="#222" stroke-width="0.65"/>
<path d="M 184.00 175.50 L 199.80 175.90 Q 201.00 176.80 201.00 180.30 L 201.40 211.30 Q 202.00 217.80 207.00 220.90 L 220.60 221.70 L 221.00 226.50 L 197.00 228.60 Q 193.60 228.60 193.00 224.80 L 185.60 182.30 Q 184.20 177.30 184.00 175.50 Z" fill="none" stroke="#555" stroke-width="0.55"/>
<path d="M 186.60 178.30 Q 195.00 177.70 197.60 180.30 L 198.60 206.30 Q 198.20 211.30 195.00 211.70 Q 191.20 211.30 190.60 206.30 L 186.90 184.30 Z" fill="none" stroke="#555" stroke-width="0.55"/>
<path d="M 189.00 181.50 Q 194.00 180.50 195.60 184.30 L 196.00 199.30 Q 195.20 203.30 193.00 203.30 Q 190.60 202.30 190.30 197.30 Z" fill="none" stroke="#555" stroke-width="0.55"/>
<ellipse cx="192.6" cy="189.8" rx="1.8" ry="4" fill="none" stroke="#555" stroke-width="0.55"/>
<path d="M 191.50 219.80 Q 195.00 217.90 200.40 220.10 L 202.30 225.50 Q 201.50 229.70 196.20 229.90 Q 192.20 229.90 191.80 224.90 Z" fill="#0d0d0d"/>
<path d="M 190.80 207.30 L 193.20 207.30 L 193.80 219.30 L 191.60 219.30 Z" fill="#333"/>
<path d="M 203.00 221.80 Q 212.00 223.70 220.00 224.10" fill="none" stroke="#777" stroke-width="0.5"/>
<rect x="176.5" y="167.8" width="68.0" height="68.89999999999998" fill="none" stroke="#9a9a9a" stroke-width="0.8"/>
<text x="171.70" y="176.99" font-size="5.8" fill="#222" stroke="#222" stroke-width="0.22" text-anchor="end">10<tspan font-size="3.60" dy="-2.44">5</tspan></text>
<line x1="175.0" y1="174.89999999999998" x2="176.5" y2="174.89999999999998" stroke="#555" stroke-width="0.6"/>
<text x="171.70" y="193.19" font-size="5.8" fill="#222" stroke="#222" stroke-width="0.22" text-anchor="end">10<tspan font-size="3.60" dy="-2.44">4</tspan></text>
<line x1="175.0" y1="191.1" x2="176.5" y2="191.1" stroke="#555" stroke-width="0.6"/>
<text x="171.70" y="209.39" font-size="5.8" fill="#222" stroke="#222" stroke-width="0.22" text-anchor="end">10<tspan font-size="3.60" dy="-2.44">3</tspan></text>
<line x1="175.0" y1="207.3" x2="176.5" y2="207.3" stroke="#555" stroke-width="0.6"/>
<text x="171.7" y="226.388" font-size="5.8" fill="#222" text-anchor="end" stroke="#222" stroke-width="0.22">0</text>
<line x1="175.0" y1="224.3" x2="176.5" y2="224.3" stroke="#555" stroke-width="0.6"/>
<text x="193" y="246.816" font-size="5.6" fill="#333" text-anchor="middle" stroke="#333" stroke-width="0.22">0</text>
<line x1="193" y1="236.7" x2="193" y2="238.29999999999998" stroke="#444" stroke-width="0.7"/>
<text x="201.35" y="246.82" font-size="5.6" fill="#333" stroke="#333" stroke-width="0.22">10<tspan font-size="3.36" dy="-2.35">3</tspan></text>
<line x1="205" y1="236.7" x2="205" y2="238.29999999999998" stroke="#444" stroke-width="0.7"/>
<text x="217.85" y="246.82" font-size="5.6" fill="#333" stroke="#333" stroke-width="0.22">10<tspan font-size="3.36" dy="-2.35">4</tspan></text>
<line x1="221.5" y1="236.7" x2="221.5" y2="238.29999999999998" stroke="#444" stroke-width="0.7"/>
<text x="232.35" y="246.82" font-size="5.6" fill="#333" stroke="#333" stroke-width="0.22">10<tspan font-size="3.36" dy="-2.35">5</tspan></text>
<line x1="236" y1="236.7" x2="236" y2="238.29999999999998" stroke="#444" stroke-width="0.7"/>
<path d="M209.97,236.70v1 M212.87,236.70v1 M214.93,236.70v1 M216.53,236.70v1 M217.84,236.70v1 M218.94,236.70v1 M219.90,236.70v1 M220.75,236.70v1 M176.50,202.42h-1 M176.50,199.57h-1 M176.50,197.55h-1 M176.50,195.98h-1 M176.50,194.69h-1 M176.50,193.61h-1 M176.50,192.67h-1 M176.50,191.84h-1 M225.86,236.70v1 M228.42,236.70v1 M230.23,236.70v1 M231.64,236.70v1 M232.78,236.70v1 M233.75,236.70v1 M234.59,236.70v1 M235.34,236.70v1 M176.50,186.22h-1 M176.50,183.37h-1 M176.50,181.35h-1 M176.50,179.78h-1 M176.50,178.49h-1 M176.50,177.41h-1 M176.50,176.47h-1 M176.50,175.64h-1 M200.03,236.70v1 M201.34,236.70v1 M202.44,236.70v1 M203.40,236.70v1 M204.25,236.70v1" stroke="#555" stroke-width="0.5" fill="none"/>
<text x="209.4" y="258.8" font-size="7.0" fill="#1a1a1a" text-anchor="middle" textLength="54" lengthAdjust="spacingAndGlyphs" stroke="#1a1a1a" stroke-width="0.25">&lt;APC-Cy7-A&gt;: Sca-1</text>
<text transform="translate(154.40,202.25) rotate(-90)" x="0" y="2.38" font-size="6.6" fill="#1a1a1a" stroke="#1a1a1a" stroke-width="0.25" text-anchor="middle" textLength="66" lengthAdjust="spacingAndGlyphs">&lt;PE-Cy5-A&gt;: c-Kit/CD117</text>
<clipPath id="cp6"><rect x="279" y="168.3" width="68.5" height="68.39999999999998"/></clipPath>
<g clip-path="url(#cp6)"><g filter="url(#spk)">
<ellipse cx="325" cy="177.8" rx="12" ry="6" fill="url(#rg)" opacity="0.6"/>
<ellipse cx="315" cy="176.8" rx="9" ry="5" fill="url(#rg)" opacity="0.3"/>
</g></g>
<path d="M 285.00 174.30 Q 287.00 170.80 292.00 172.10 Q 297.00 170.30 301.00 172.50 Q 306.00 170.80 312.00 172.30 L 320.00 171.90 Q 330.00 171.30 336.00 174.30 Q 341.00 177.30 340.00 181.80 Q 338.00 185.80 332.00 185.30 L 322.00 183.80 Q 314.00 185.10 307.00 183.90 Q 301.00 185.30 297.00 183.30 Q 291.00 184.80 288.50 181.80 Q 285.60 179.30 286.80 177.30 Q 284.60 176.30 285.00 174.30 Z" fill="none" stroke="#555" stroke-width="0.55"/>
<path d="M 285.00 174.30 Q 287.00 170.80 292.00 172.10 Q 297.00 170.30 301.00 172.50 Q 306.00 170.80 312.00 172.30 L 320.00 171.90 Q 330.00 171.30 336.00 174.30 Q 341.00 177.30 340.00 181.80 Q 338.00 185.80 332.00 185.30 L 322.00 183.80 Q 314.00 185.10 307.00 183.90 Q 301.00 185.30 297.00 183.30 Q 291.00 184.80 288.50 181.80 Q 285.60 179.30 286.80 177.30 Q 284.60 176.30 285.00 174.30 Z" fill="none" stroke="#444" stroke-width="0.5" vector-effect="non-scaling-stroke" transform="translate(328.00,178.80) scale(0.86) translate(-328.00,-178.80)"/>
<path d="M 285.00 174.30 Q 287.00 170.80 292.00 172.10 Q 297.00 170.30 301.00 172.50 Q 306.00 170.80 312.00 172.30 L 320.00 171.90 Q 330.00 171.30 336.00 174.30 Q 341.00 177.30 340.00 181.80 Q 338.00 185.80 332.00 185.30 L 322.00 183.80 Q 314.00 185.10 307.00 183.90 Q 301.00 185.30 297.00 183.30 Q 291.00 184.80 288.50 181.80 Q 285.60 179.30 286.80 177.30 Q 284.60 176.30 285.00 174.30 Z" fill="none" stroke="#444" stroke-width="0.5" vector-effect="non-scaling-stroke" transform="translate(328.00,178.80) scale(0.62) translate(-328.00,-178.80)"/>
<path d="M 285.00 174.30 Q 287.00 170.80 292.00 172.10 Q 297.00 170.30 301.00 172.50 Q 306.00 170.80 312.00 172.30 L 320.00 171.90 Q 330.00 171.30 336.00 174.30 Q 341.00 177.30 340.00 181.80 Q 338.00 185.80 332.00 185.30 L 322.00 183.80 Q 314.00 185.10 307.00 183.90 Q 301.00 185.30 297.00 183.30 Q 291.00 184.80 288.50 181.80 Q 285.60 179.30 286.80 177.30 Q 284.60 176.30 285.00 174.30 Z" fill="none" stroke="#444" stroke-width="0.5" vector-effect="non-scaling-stroke" transform="translate(328.00,178.80) scale(0.47) translate(-328.00,-178.80)"/>
<path d="M 285.00 174.30 Q 287.00 170.80 292.00 172.10 Q 297.00 170.30 301.00 172.50 Q 306.00 170.80 312.00 172.30 L 320.00 171.90 Q 330.00 171.30 336.00 174.30 Q 341.00 177.30 340.00 181.80 Q 338.00 185.80 332.00 185.30 L 322.00 183.80 Q 314.00 185.10 307.00 183.90 Q 301.00 185.30 297.00 183.30 Q 291.00 184.80 288.50 181.80 Q 285.60 179.30 286.80 177.30 Q 284.60 176.30 285.00 174.30 Z" fill="none" stroke="#444" stroke-width="0.5" vector-effect="non-scaling-stroke" transform="translate(328.00,178.80) scale(0.37) translate(-328.00,-178.80)"/>
<path d="M 285.00 174.30 Q 287.00 170.80 292.00 172.10 Q 297.00 170.30 301.00 172.50 Q 306.00 170.80 312.00 172.30 L 320.00 171.90 Q 330.00 171.30 336.00 174.30 Q 341.00 177.30 340.00 181.80 Q 338.00 185.80 332.00 185.30 L 322.00 183.80 Q 314.00 185.10 307.00 183.90 Q 301.00 185.30 297.00 183.30 Q 291.00 184.80 288.50 181.80 Q 285.60 179.30 286.80 177.30 Q 284.60 176.30 285.00 174.30 Z" fill="none" stroke="#444" stroke-width="0.5" vector-effect="non-scaling-stroke" transform="translate(328.00,178.80) scale(0.29) translate(-328.00,-178.80)"/>
<path d="M 285.00 174.30 Q 287.00 170.80 292.00 172.10 Q 297.00 170.30 301.00 172.50 Q 306.00 170.80 312.00 172.30 L 320.00 171.90 Q 330.00 171.30 336.00 174.30 Q 341.00 177.30 340.00 181.80 Q 338.00 185.80 332.00 185.30 L 322.00 183.80 Q 314.00 185.10 307.00 183.90 Q 301.00 185.30 297.00 183.30 Q 291.00 184.80 288.50 181.80 Q 285.60 179.30 286.80 177.30 Q 284.60 176.30 285.00 174.30 Z" fill="none" stroke="#444" stroke-width="0.5" vector-effect="non-scaling-stroke" transform="translate(328.00,178.80) scale(0.23) translate(-328.00,-178.80)"/>
<path d="M 285.00 174.30 Q 287.00 170.80 292.00 172.10 Q 297.00 170.30 301.00 172.50 Q 306.00 170.80 312.00 172.30 L 320.00 171.90 Q 330.00 171.30 336.00 174.30 Q 341.00 177.30 340.00 181.80 Q 338.00 185.80 332.00 185.30 L 322.00 183.80 Q 314.00 185.10 307.00 183.90 Q 301.00 185.30 297.00 183.30 Q 291.00 184.80 288.50 181.80 Q 285.60 179.30 286.80 177.30 Q 284.60 176.30 285.00 174.30 Z" fill="none" stroke="#444" stroke-width="0.5" vector-effect="non-scaling-stroke" transform="translate(328.00,178.80) scale(0.18) translate(-328.00,-178.80)"/>
<path d="M 285.00 174.30 Q 287.00 170.80 292.00 172.10 Q 297.00 170.30 301.00 172.50 Q 306.00 170.80 312.00 172.30 L 320.00 171.90 Q 330.00 171.30 336.00 174.30 Q 341.00 177.30 340.00 181.80 Q 338.00 185.80 332.00 185.30 L 322.00 183.80 Q 314.00 185.10 307.00 183.90 Q 301.00 185.30 297.00 183.30 Q 291.00 184.80 288.50 181.80 Q 285.60 179.30 286.80 177.30 Q 284.60 176.30 285.00 174.30 Z" fill="none" stroke="#444" stroke-width="0.5" vector-effect="non-scaling-stroke" transform="translate(328.00,178.80) scale(0.14) translate(-328.00,-178.80)"/>
<ellipse cx="327.5" cy="179.60000000000002" rx="2.6" ry="1.2" fill="#fff"/>
<rect x="279" y="168.3" width="68.5" height="68.39999999999998" fill="none" stroke="#9a9a9a" stroke-width="0.8"/>
<text x="274.20" y="176.99" font-size="5.8" fill="#222" stroke="#222" stroke-width="0.22" text-anchor="end">10<tspan font-size="3.60" dy="-2.44">5</tspan></text>
<line x1="277.5" y1="174.89999999999998" x2="279" y2="174.89999999999998" stroke="#555" stroke-width="0.6"/>
<text x="274.20" y="193.19" font-size="5.8" fill="#222" stroke="#222" stroke-width="0.22" text-anchor="end">10<tspan font-size="3.60" dy="-2.44">4</tspan></text>
<line x1="277.5" y1="191.1" x2="279" y2="191.1" stroke="#555" stroke-width="0.6"/>
<text x="274.20" y="209.39" font-size="5.8" fill="#222" stroke="#222" stroke-width="0.22" text-anchor="end">10<tspan font-size="3.60" dy="-2.44">3</tspan></text>
<line x1="277.5" y1="207.3" x2="279" y2="207.3" stroke="#555" stroke-width="0.6"/>
<text x="274.2" y="226.388" font-size="5.8" fill="#222" text-anchor="end" stroke="#222" stroke-width="0.22">0</text>
<line x1="277.5" y1="224.3" x2="279" y2="224.3" stroke="#555" stroke-width="0.6"/>
<text x="291.7" y="246.816" font-size="5.6" fill="#333" text-anchor="middle" stroke="#333" stroke-width="0.22">0</text>
<line x1="291.7" y1="236.7" x2="291.7" y2="238.29999999999998" stroke="#444" stroke-width="0.7"/>
<text x="305.35" y="246.82" font-size="5.6" fill="#333" stroke="#333" stroke-width="0.22">10<tspan font-size="3.36" dy="-2.35">3</tspan></text>
<line x1="309" y1="236.7" x2="309" y2="238.29999999999998" stroke="#444" stroke-width="0.7"/>
<text x="320.75" y="246.82" font-size="5.6" fill="#333" stroke="#333" stroke-width="0.22">10<tspan font-size="3.36" dy="-2.35">4</tspan></text>
<line x1="324.4" y1="236.7" x2="324.4" y2="238.29999999999998" stroke="#444" stroke-width="0.7"/>
<text x="337.15" y="246.82" font-size="5.6" fill="#333" stroke="#333" stroke-width="0.22">10<tspan font-size="3.36" dy="-2.35">5</tspan></text>
<line x1="340.8" y1="236.7" x2="340.8" y2="238.29999999999998" stroke="#444" stroke-width="0.7"/>
<path d="M313.64,236.70v1 M316.35,236.70v1 M318.27,236.70v1 M319.76,236.70v1 M320.98,236.70v1 M322.01,236.70v1 M322.91,236.70v1 M323.70,236.70v1 M279.00,202.42h-1 M279.00,199.57h-1 M279.00,197.55h-1 M279.00,195.98h-1 M279.00,194.69h-1 M279.00,193.61h-1 M279.00,192.67h-1 M279.00,191.84h-1 M329.34,236.70v1 M332.22,236.70v1 M334.27,236.70v1 M335.86,236.70v1 M337.16,236.70v1 M338.26,236.70v1 M339.21,236.70v1 M340.05,236.70v1 M279.00,186.22h-1 M279.00,183.37h-1 M279.00,181.35h-1 M279.00,179.78h-1 M279.00,178.49h-1 M279.00,177.41h-1 M279.00,176.47h-1 M279.00,175.64h-1 M304.36,236.70v1 M305.58,236.70v1 M306.61,236.70v1 M307.51,236.70v1 M308.30,236.70v1" stroke="#555" stroke-width="0.5" fill="none"/>
<text x="313.25" y="258.8" font-size="7.0" fill="#1a1a1a" text-anchor="middle" textLength="42.5" lengthAdjust="spacingAndGlyphs" stroke="#1a1a1a" stroke-width="0.25">&lt;PE-YG-A&gt;: Flt3</text>
<text transform="translate(256.50,202.50) rotate(-90)" x="0" y="2.38" font-size="6.6" fill="#1a1a1a" stroke="#1a1a1a" stroke-width="0.25" text-anchor="middle" textLength="66" lengthAdjust="spacingAndGlyphs">&lt;PE-Cy5-A&gt;: c-Kit/CD117</text>
<clipPath id="cp7"><rect x="72" y="371.9" width="63.599999999999994" height="64.10000000000002"/></clipPath>
<g clip-path="url(#cp7)"><g filter="url(#spk)">
<rect x="72.5" y="372.5" width="45" height="56" fill="#000" opacity="0.07"/>
<ellipse cx="105" cy="387.0" rx="12" ry="12" fill="url(#rg2)" opacity="1.0"/>
<ellipse cx="103" cy="386.0" rx="18" ry="15" fill="url(#rg)" opacity="0.8"/>
<ellipse cx="111" cy="398.0" rx="6" ry="14" fill="url(#rg2)" opacity="1.0"/>
<ellipse cx="97" cy="405.0" rx="13" ry="13" fill="url(#rg)" opacity="0.45"/>
<ellipse cx="86" cy="392.0" rx="12" ry="16" fill="url(#rg)" opacity="0.22"/>
<ellipse cx="103" cy="418.0" rx="8" ry="4" fill="url(#rg)" opacity="0.6"/>
<ellipse cx="118" cy="384.0" rx="8" ry="8" fill="url(#rg)" opacity="0.7"/>
<ellipse cx="125" cy="402.0" rx="10" ry="20" fill="url(#rg)" opacity="0.3"/>
<rect x="72.5" y="418.8" width="14" height="1.6" fill="#000" opacity="0.45"/>
<path d="M 118.00 421.50 L 117.80 395.00 Q 118.20 391.80 122.00 391.60 L 125.00 391.70 Q 127.80 392.00 127.90 395.00 L 128.90 419.00 Q 129.00 422.40 126.00 422.50 Z" fill="none" stroke="#000" stroke-width="3.0" opacity="0.85" filter="url(#bl1)"/>
<path d="M 100.00 419.60 Q 102.50 417.50 105.00 415.50 Q 107.50 412.00 108.00 407.00 L 108.60 403.40 Q 109.50 404.50 113.80 409.40 L 118.20 411.20 L 119.00 422.60 L 103.00 422.20 Q 99.50 421.80 100.00 419.60 Z" fill="none" stroke="#000" stroke-width="2.4" opacity="0.75" filter="url(#bl1)"/>
</g></g>
<path d="M 108.50 386.00 L 118.00 385.00 L 118.50 411.50 L 113.80 409.40 L 108.60 403.40 Z" fill="#0a0a0a"/>
<path d="M 118.00 421.50 L 117.80 395.00 Q 118.20 391.80 122.00 391.60 L 125.00 391.70 Q 127.80 392.00 127.90 395.00 L 128.90 419.00 Q 129.00 422.40 126.00 422.50 Z" fill="#f5f5f5" stroke="#1a1a1a" stroke-width="0.8"/>
<path d="M 100.00 419.60 Q 102.50 417.50 105.00 415.50 Q 107.50 412.00 108.00 407.00 L 108.60 403.40 Q 109.50 404.50 113.80 409.40 L 118.20 411.20 L 119.00 422.60 L 103.00 422.20 Q 99.50 421.80 100.00 419.60 Z" fill="#f8f8f8" stroke="#1a1a1a" stroke-width="0.7"/>
<path d="M 118.00 421.50 L 117.80 395.00 Q 118.20 391.80 122.00 391.60 L 125.00 391.70 Q 127.80 392.00 127.90 395.00 L 128.90 419.00 Q 129.00 422.40 126.00 422.50 Z" fill="none" stroke="#777" stroke-width="0.45" vector-effect="non-scaling-stroke" transform="translate(122.80,402.00) scale(0.8) translate(-122.80,-402.00)"/>
<path d="M 118.00 421.50 L 117.80 395.00 Q 118.20 391.80 122.00 391.60 L 125.00 391.70 Q 127.80 392.00 127.90 395.00 L 128.90 419.00 Q 129.00 422.40 126.00 422.50 Z" fill="none" stroke="#777" stroke-width="0.45" vector-effect="non-scaling-stroke" transform="translate(122.80,402.00) scale(0.6) translate(-122.80,-402.00)"/>
<path d="M 118.00 421.50 L 117.80 395.00 Q 118.20 391.80 122.00 391.60 L 125.00 391.70 Q 127.80 392.00 127.90 395.00 L 128.90 419.00 Q 129.00 422.40 126.00 422.50 Z" fill="none" stroke="#777" stroke-width="0.45" vector-effect="non-scaling-stroke" transform="translate(122.80,402.00) scale(0.4) translate(-122.80,-402.00)"/>
<path d="M 118.00 421.50 L 117.80 395.00 Q 118.20 391.80 122.00 391.60 L 125.00 391.70 Q 127.80 392.00 127.90 395.00 L 128.90 419.00 Q 129.00 422.40 126.00 422.50 Z" fill="none" stroke="#777" stroke-width="0.45" vector-effect="non-scaling-stroke" transform="translate(122.80,402.00) scale(0.2) translate(-122.80,-402.00)"/>
<circle cx="123.4" cy="396.0" r="0.7" fill="#222"/>
<ellipse cx="119.2" cy="418.0" rx="4.2" ry="3.0" fill="#111"/>
<ellipse cx="109.5" cy="419.6" rx="5.5" ry="1.6" fill="#555"/>
<ellipse cx="109.5" cy="419.6" rx="3" ry="0.8" fill="#bbb"/>
<rect x="72" y="371.9" width="63.599999999999994" height="64.10000000000002" fill="none" stroke="#9a9a9a" stroke-width="0.8"/>
<text x="67.20" y="380.59" font-size="5.8" fill="#222" stroke="#222" stroke-width="0.22" text-anchor="end">10<tspan font-size="3.60" dy="-2.44">5</tspan></text>
<line x1="70.5" y1="378.5" x2="72" y2="378.5" stroke="#555" stroke-width="0.6"/>
<text x="67.20" y="396.89" font-size="5.8" fill="#222" stroke="#222" stroke-width="0.22" text-anchor="end">10<tspan font-size="3.60" dy="-2.44">4</tspan></text>
<line x1="70.5" y1="394.8" x2="72" y2="394.8" stroke="#555" stroke-width="0.6"/>
<text x="67.20" y="412.09" font-size="5.8" fill="#222" stroke="#222" stroke-width="0.22" text-anchor="end">10<tspan font-size="3.60" dy="-2.44">3</tspan></text>
<line x1="70.5" y1="410.0" x2="72" y2="410.0" stroke="#555" stroke-width="0.6"/>
<text x="67.2" y="422.288" font-size="5.8" fill="#222" text-anchor="end" stroke="#222" stroke-width="0.22">0</text>
<line x1="70.5" y1="420.2" x2="72" y2="420.2" stroke="#555" stroke-width="0.6"/>
<text x="78.5" y="445.81600000000003" font-size="5.6" fill="#333" text-anchor="middle" stroke="#333" stroke-width="0.22">0</text>
<line x1="78.5" y1="436.0" x2="78.5" y2="437.6" stroke="#444" stroke-width="0.7"/>
<text x="82.35" y="445.82" font-size="5.6" fill="#333" stroke="#333" stroke-width="0.22">10<tspan font-size="3.36" dy="-2.35">2</tspan></text>
<line x1="86" y1="436.0" x2="86" y2="437.6" stroke="#444" stroke-width="0.7"/>
<text x="96.75" y="445.82" font-size="5.6" fill="#333" stroke="#333" stroke-width="0.22">10<tspan font-size="3.36" dy="-2.35">3</tspan></text>
<line x1="100.4" y1="436.0" x2="100.4" y2="437.6" stroke="#444" stroke-width="0.7"/>
<text x="111.75" y="445.82" font-size="5.6" fill="#333" stroke="#333" stroke-width="0.22">10<tspan font-size="3.36" dy="-2.35">4</tspan></text>
<line x1="115.4" y1="436.0" x2="115.4" y2="437.6" stroke="#444" stroke-width="0.7"/>
<text x="125.35" y="445.82" font-size="5.6" fill="#333" stroke="#333" stroke-width="0.22">10<tspan font-size="3.36" dy="-2.35">5</tspan></text>
<line x1="129" y1="436.0" x2="129" y2="437.6" stroke="#444" stroke-width="0.7"/>
<path d="M104.92,436.00v1 M107.56,436.00v1 M109.43,436.00v1 M110.88,436.00v1 M112.07,436.00v1 M113.08,436.00v1 M113.95,436.00v1 M114.71,436.00v1 M72.00,405.42h-1 M72.00,402.75h-1 M72.00,400.85h-1 M72.00,399.38h-1 M72.00,398.17h-1 M72.00,397.15h-1 M72.00,396.27h-1 M72.00,395.50h-1 M119.49,436.00v1 M121.89,436.00v1 M123.59,436.00v1 M124.91,436.00v1 M125.98,436.00v1 M126.89,436.00v1 M127.68,436.00v1 M128.38,436.00v1 M72.00,389.89h-1 M72.00,387.02h-1 M72.00,384.99h-1 M72.00,383.41h-1 M72.00,382.12h-1 M72.00,381.02h-1 M72.00,380.08h-1 M72.00,379.25h-1 M95.88,436.00v1 M97.07,436.00v1 M98.08,436.00v1 M98.95,436.00v1 M99.71,436.00v1" stroke="#555" stroke-width="0.5" fill="none"/>
<text x="103.8" y="457.3" font-size="7.0" fill="#1a1a1a" text-anchor="middle" textLength="65" lengthAdjust="spacingAndGlyphs" stroke="#1a1a1a" stroke-width="0.25">&lt;Pacific blue-A&gt;:: lineage</text>
<text transform="translate(50.50,403.95) rotate(-90)" x="0" y="2.38" font-size="6.6" fill="#1a1a1a" stroke="#1a1a1a" stroke-width="0.25" text-anchor="middle" textLength="66" lengthAdjust="spacingAndGlyphs">&lt;PE-Cy5-A&gt;: c-Kit/CD117</text>
<clipPath id="cp8"><rect x="178.3" y="371.9" width="62.5" height="64.10000000000002"/></clipPath>
<g clip-path="url(#cp8)"><g filter="url(#spk)">
<ellipse cx="219" cy="408.0" rx="16" ry="16" fill="url(#rg)" opacity="0.3"/>
<ellipse cx="229" cy="400.0" rx="8" ry="12" fill="url(#rg)" opacity="0.2"/>
<ellipse cx="217" cy="381.0" rx="11" ry="4" fill="url(#rg)" opacity="0.5"/>
<ellipse cx="218" cy="389.5" rx="12" ry="3.5" fill="url(#rg)" opacity="0.45"/>
<ellipse cx="196" cy="376.0" rx="10" ry="3" fill="url(#rg)" opacity="0.4"/>
<path d="M 186.50 380.00 Q 187.00 375.50 192.00 375.30 L 202.00 375.50 Q 206.50 376.00 206.50 381.00 L 206.00 390.00 Q 205.50 394.00 204.00 396.00 L 204.50 398.00 Q 209.00 396.50 213.00 397.50 Q 215.50 399.50 214.00 402.50 L 213.00 405.00 Q 215.00 409.00 220.00 413.00 Q 227.00 418.00 227.50 421.50 Q 227.00 424.80 220.00 424.80 L 196.00 425.00 Q 190.00 425.00 189.80 420.00 L 189.80 392.00 Q 187.00 388.00 186.50 380.00 Z" fill="none" stroke="#000" stroke-width="1.8" opacity="0.35" filter="url(#bl1)"/>
</g></g>
<path d="M 186.50 380.00 Q 187.00 375.50 192.00 375.30 L 202.00 375.50 Q 206.50 376.00 206.50 381.00 L 206.00 390.00 Q 205.50 394.00 204.00 396.00 L 204.50 398.00 Q 209.00 396.50 213.00 397.50 Q 215.50 399.50 214.00 402.50 L 213.00 405.00 Q 215.00 409.00 220.00 413.00 Q 227.00 418.00 227.50 421.50 Q 227.00 424.80 220.00 424.80 L 196.00 425.00 Q 190.00 425.00 189.80 420.00 L 189.80 392.00 Q 187.00 388.00 186.50 380.00 Z" fill="#efefef" stroke="#2a2a2a" stroke-width="0.65"/>
<path d="M 186.50 380.00 Q 187.00 375.50 192.00 375.30 L 202.00 375.50 Q 206.50 376.00 206.50 381.00 L 206.00 390.00 Q 205.50 394.00 204.00 396.00 L 204.50 398.00 Q 209.00 396.50 213.00 397.50 Q 215.50 399.50 214.00 402.50 L 213.00 405.00 Q 215.00 409.00 220.00 413.00 Q 227.00 418.00 227.50 421.50 Q 227.00 424.80 220.00 424.80 L 196.00 425.00 Q 190.00 425.00 189.80 420.00 L 189.80 392.00 Q 187.00 388.00 186.50 380.00 Z" fill="#f8f8f8" stroke="#444" stroke-width="0.5" vector-effect="non-scaling-stroke" transform="translate(198.00,408.00) scale(0.87) translate(-198.00,-408.00)"/>
<path d="M 186.50 380.00 Q 187.00 375.50 192.00 375.30 L 202.00 375.50 Q 206.50 376.00 206.50 381.00 L 206.00 390.00 Q 205.50 394.00 204.00 396.00 L 204.50 398.00 Q 209.00 396.50 213.00 397.50 Q 215.50 399.50 214.00 402.50 L 213.00 405.00 Q 215.00 409.00 220.00 413.00 Q 227.00 418.00 227.50 421.50 Q 227.00 424.80 220.00 424.80 L 196.00 425.00 Q 190.00 425.00 189.80 420.00 L 189.80 392.00 Q 187.00 388.00 186.50 380.00 Z" fill="#f8f8f8" stroke="#444" stroke-width="0.5" vector-effect="non-scaling-stroke" transform="translate(198.00,408.00) scale(0.74) translate(-198.00,-408.00)"/>
<path d="M 186.50 380.00 Q 187.00 375.50 192.00 375.30 L 202.00 375.50 Q 206.50 376.00 206.50 381.00 L 206.00 390.00 Q 205.50 394.00 204.00 396.00 L 204.50 398.00 Q 209.00 396.50 213.00 397.50 Q 215.50 399.50 214.00 402.50 L 213.00 405.00 Q 215.00 409.00 220.00 413.00 Q 227.00 418.00 227.50 421.50 Q 227.00 424.80 220.00 424.80 L 196.00 425.00 Q 190.00 425.00 189.80 420.00 L 189.80 392.00 Q 187.00 388.00 186.50 380.00 Z" fill="#f8f8f8" stroke="#444" stroke-width="0.5" vector-effect="non-scaling-stroke" transform="translate(198.00,408.00) scale(0.6) translate(-198.00,-408.00)"/>
<path d="M 186.50 380.00 Q 187.00 375.50 192.00 375.30 L 202.00 375.50 Q 206.50 376.00 206.50 381.00 L 206.00 390.00 Q 205.50 394.00 204.00 396.00 L 204.50 398.00 Q 209.00 396.50 213.00 397.50 Q 215.50 399.50 214.00 402.50 L 213.00 405.00 Q 215.00 409.00 220.00 413.00 Q 227.00 418.00 227.50 421.50 Q 227.00 424.80 220.00 424.80 L 196.00 425.00 Q 190.00 425.00 189.80 420.00 L 189.80 392.00 Q 187.00 388.00 186.50 380.00 Z" fill="#f8f8f8" stroke="#444" stroke-width="0.5" vector-effect="non-scaling-stroke" transform="translate(198.00,408.00) scale(0.46) translate(-198.00,-408.00)"/>
<path d="M 189.00 390.00 Q 189.00 378.50 196.00 378.20 Q 203.00 378.50 203.50 386.00 L 203.00 392.00" fill="none" stroke="#444" stroke-width="0.5"/>
<path d="M 191.50 389.00 Q 192.00 381.00 196.00 381.00 Q 200.00 381.50 200.50 387.00" fill="none" stroke="#444" stroke-width="0.5"/>
<path d="M 204.50 405.00 Q 211.00 410.50 219.00 414.50" fill="none" stroke="#444" stroke-width="0.5"/>
<path d="M 206.00 402.00 Q 209.00 400.00 211.50 401.00" fill="none" stroke="#444" stroke-width="0.5"/>
<ellipse cx="195.4" cy="385.8" rx="1.6" ry="2.4" fill="#fff" stroke="#555" stroke-width="0.4"/>
<path d="M 209.00 380.40 Q 214.00 377.40 220.00 378.00 Q 226.00 378.50 227.20 381.50 Q 225.00 384.20 219.00 383.60 Q 213.00 384.60 209.00 383.60 Z" fill="#f2f2f2" stroke="#333" stroke-width="0.7"/>
<path d="M 208.00 386.50 L 227.50 386.50" stroke="#4d6790" stroke-width="2.2" stroke-dasharray="1.2 0.5" opacity="0.8"/>
<path d="M 190.20 414.50 Q 195.00 412.20 201.80 414.00 L 203.00 420.00 Q 202.40 425.00 196.00 425.00 L 190.40 424.80 Z" fill="#0d0d0d" filter="url(#bl05)"/>
<path d="M 189.90 398.00 L 192.00 398.00 L 192.40 414.00 L 190.20 414.00 Z" fill="#3a3a3a"/>
<rect x="178.3" y="371.9" width="62.5" height="64.10000000000002" fill="none" stroke="#9a9a9a" stroke-width="0.8"/>
<text x="173.50" y="380.59" font-size="5.8" fill="#222" stroke="#222" stroke-width="0.22" text-anchor="end">10<tspan font-size="3.60" dy="-2.44">5</tspan></text>
<line x1="176.8" y1="378.5" x2="178.3" y2="378.5" stroke="#555" stroke-width="0.6"/>
<text x="173.50" y="396.89" font-size="5.8" fill="#222" stroke="#222" stroke-width="0.22" text-anchor="end">10<tspan font-size="3.60" dy="-2.44">4</tspan></text>
<line x1="176.8" y1="394.8" x2="178.3" y2="394.8" stroke="#555" stroke-width="0.6"/>
<text x="173.50" y="412.09" font-size="5.8" fill="#222" stroke="#222" stroke-width="0.22" text-anchor="end">10<tspan font-size="3.60" dy="-2.44">3</tspan></text>
<line x1="176.8" y1="410.0" x2="178.3" y2="410.0" stroke="#555" stroke-width="0.6"/>
<text x="173.5" y="422.288" font-size="5.8" fill="#222" text-anchor="end" stroke="#222" stroke-width="0.22">0</text>
<line x1="176.8" y1="420.2" x2="178.3" y2="420.2" stroke="#555" stroke-width="0.6"/>
<text x="194.2" y="445.81600000000003" font-size="5.6" fill="#333" text-anchor="middle" stroke="#333" stroke-width="0.22">0</text>
<line x1="194.2" y1="436.0" x2="194.2" y2="437.6" stroke="#444" stroke-width="0.7"/>
<text x="198.15" y="445.82" font-size="5.6" fill="#333" stroke="#333" stroke-width="0.22">10<tspan font-size="3.36" dy="-2.35">3</tspan></text>
<line x1="201.8" y1="436.0" x2="201.8" y2="437.6" stroke="#444" stroke-width="0.7"/>
<text x="214.05" y="445.82" font-size="5.6" fill="#333" stroke="#333" stroke-width="0.22">10<tspan font-size="3.36" dy="-2.35">4</tspan></text>
<line x1="217.7" y1="436.0" x2="217.7" y2="437.6" stroke="#444" stroke-width="0.7"/>
<text x="229.35" y="445.82" font-size="5.6" fill="#333" stroke="#333" stroke-width="0.22">10<tspan font-size="3.36" dy="-2.35">5</tspan></text>
<line x1="233" y1="436.0" x2="233" y2="437.6" stroke="#444" stroke-width="0.7"/>
<path d="M206.59,436.00v1 M209.39,436.00v1 M211.37,436.00v1 M212.91,436.00v1 M214.17,436.00v1 M215.24,436.00v1 M216.16,436.00v1 M216.97,436.00v1 M178.30,405.42h-1 M178.30,402.75h-1 M178.30,400.85h-1 M178.30,399.38h-1 M178.30,398.17h-1 M178.30,397.15h-1 M178.30,396.27h-1 M178.30,395.50h-1 M222.31,436.00v1 M225.00,436.00v1 M226.91,436.00v1 M228.39,436.00v1 M229.61,436.00v1 M230.63,436.00v1 M231.52,436.00v1 M232.30,436.00v1 M178.30,389.89h-1 M178.30,387.02h-1 M178.30,384.99h-1 M178.30,383.41h-1 M178.30,382.12h-1 M178.30,381.02h-1 M178.30,380.08h-1 M178.30,379.25h-1 M197.01,436.00v1 M198.27,436.00v1 M199.34,436.00v1 M200.26,436.00v1 M201.07,436.00v1" stroke="#555" stroke-width="0.5" fill="none"/>
<text x="208.55" y="458.0" font-size="7.0" fill="#1a1a1a" text-anchor="middle" textLength="52" lengthAdjust="spacingAndGlyphs" stroke="#1a1a1a" stroke-width="0.25">&lt;APC-Cy7-A&gt;: Sca-1</text>
<text transform="translate(154.80,403.95) rotate(-90)" x="0" y="2.38" font-size="6.6" fill="#1a1a1a" stroke="#1a1a1a" stroke-width="0.25" text-anchor="middle" textLength="66" lengthAdjust="spacingAndGlyphs">&lt;PE-Cy5-A&gt;: c-Kit/CD117</text>
<clipPath id="cp9"><rect x="283.8" y="371.5" width="64.5" height="64.10000000000002"/></clipPath>
<g clip-path="url(#cp9)"><g filter="url(#spk)">
<ellipse cx="304" cy="405.0" rx="15" ry="18" fill="url(#rg)" opacity="0.45"/>
</g></g>
<path d="M 289.50 421.00 Q 289.00 412.00 293.00 409.00 Q 297.00 408.20 301.00 411.00 L 302.00 421.00 Z" fill="#cfcfcf" stroke="#333" stroke-width="0.5"/>
<path d="M 289.50 421.00 Q 289.00 412.00 293.00 409.00 Q 297.00 408.20 301.00 411.00 L 302.00 421.00 Z" fill="none" stroke="#555" stroke-width="0.45" vector-effect="non-scaling-stroke" transform="translate(296.00,421.00) scale(0.75) translate(-296.00,-421.00)"/>
<path d="M 289.50 421.00 Q 289.00 412.00 293.00 409.00 Q 297.00 408.20 301.00 411.00 L 302.00 421.00 Z" fill="none" stroke="#555" stroke-width="0.45" vector-effect="non-scaling-stroke" transform="translate(296.00,421.00) scale(0.5) translate(-296.00,-421.00)"/>
<path d="M 306.00 421.00 L 306.50 412.00 Q 311.50 408.50 315.80 410.50 Q 318.80 414.00 318.30 421.00 Z" fill="#cfcfcf" stroke="#333" stroke-width="0.5"/>
<path d="M 306.00 421.00 L 306.50 412.00 Q 311.50 408.50 315.80 410.50 Q 318.80 414.00 318.30 421.00 Z" fill="none" stroke="#555" stroke-width="0.45" vector-effect="non-scaling-stroke" transform="translate(312.00,421.00) scale(0.75) translate(-312.00,-421.00)"/>
<path d="M 306.00 421.00 L 306.50 412.00 Q 311.50 408.50 315.80 410.50 Q 318.80 414.00 318.30 421.00 Z" fill="none" stroke="#555" stroke-width="0.45" vector-effect="non-scaling-stroke" transform="translate(312.00,421.00) scale(0.5) translate(-312.00,-421.00)"/>
<path d="M 293.00 400.00 Q 292.50 391.50 301.00 390.60 Q 310.00 390.00 313.50 393.00 Q 315.50 397.00 314.80 404.00 L 314.00 411.00 Q 311.00 414.00 307.00 414.00 L 306.00 421.00 L 302.00 421.00 L 301.00 414.00 Q 296.00 414.00 293.50 410.00 Z" fill="#0c0c0c" filter="url(#bl05)"/>
<path d="M 299.00 421.00 L 300.50 406.00 L 306.50 406.00 L 307.50 421.00 Z" fill="#1a2436" filter="url(#bl05)"/>
<circle cx="305" cy="397.0" r="0.7" fill="#9ab"/>
<circle cx="301" cy="402.0" r="0.5" fill="#789"/>
<rect x="283.8" y="371.5" width="64.5" height="64.10000000000002" fill="none" stroke="#9a9a9a" stroke-width="0.8"/>
<text x="279.00" y="381.09" font-size="5.8" fill="#222" stroke="#222" stroke-width="0.22" text-anchor="end">10<tspan font-size="3.60" dy="-2.44">5</tspan></text>
<line x1="282.3" y1="379.0" x2="283.8" y2="379.0" stroke="#555" stroke-width="0.6"/>
<text x="279.00" y="396.49" font-size="5.8" fill="#222" stroke="#222" stroke-width="0.22" text-anchor="end">10<tspan font-size="3.60" dy="-2.44">4</tspan></text>
<line x1="282.3" y1="394.4" x2="283.8" y2="394.4" stroke="#555" stroke-width="0.6"/>
<text x="279.00" y="411.89" font-size="5.8" fill="#222" stroke="#222" stroke-width="0.22" text-anchor="end">10<tspan font-size="3.60" dy="-2.44">3</tspan></text>
<line x1="282.3" y1="409.8" x2="283.8" y2="409.8" stroke="#555" stroke-width="0.6"/>
<text x="279.0" y="421.68800000000005" font-size="5.8" fill="#222" text-anchor="end" stroke="#222" stroke-width="0.22">0</text>
<line x1="282.3" y1="419.6" x2="283.8" y2="419.6" stroke="#555" stroke-width="0.6"/>
<text x="300.6" y="445.81600000000003" font-size="5.6" fill="#333" text-anchor="middle" stroke="#333" stroke-width="0.22">0</text>
<line x1="300.6" y1="435.6" x2="300.6" y2="437.20000000000005" stroke="#444" stroke-width="0.7"/>
<text x="304.55" y="445.82" font-size="5.6" fill="#333" stroke="#333" stroke-width="0.22">10<tspan font-size="3.36" dy="-2.35">3</tspan></text>
<line x1="308.2" y1="435.6" x2="308.2" y2="437.20000000000005" stroke="#444" stroke-width="0.7"/>
<text x="320.55" y="445.82" font-size="5.6" fill="#333" stroke="#333" stroke-width="0.22">10<tspan font-size="3.36" dy="-2.35">4</tspan></text>
<line x1="324.2" y1="435.6" x2="324.2" y2="437.20000000000005" stroke="#444" stroke-width="0.7"/>
<text x="335.95" y="445.82" font-size="5.6" fill="#333" stroke="#333" stroke-width="0.22">10<tspan font-size="3.36" dy="-2.35">5</tspan></text>
<line x1="339.6" y1="435.6" x2="339.6" y2="437.20000000000005" stroke="#444" stroke-width="0.7"/>
<path d="M313.02,435.60v1 M315.83,435.60v1 M317.83,435.60v1 M319.38,435.60v1 M320.65,435.60v1 M321.72,435.60v1 M322.65,435.60v1 M323.47,435.60v1 M283.80,405.16h-1 M283.80,402.45h-1 M283.80,400.53h-1 M283.80,399.04h-1 M283.80,397.82h-1 M283.80,396.79h-1 M283.80,395.89h-1 M283.80,395.10h-1 M328.84,435.60v1 M331.55,435.60v1 M333.47,435.60v1 M334.96,435.60v1 M336.18,435.60v1 M337.21,435.60v1 M338.11,435.60v1 M338.90,435.60v1 M283.80,389.76h-1 M283.80,387.05h-1 M283.80,385.13h-1 M283.80,383.64h-1 M283.80,382.42h-1 M283.80,381.39h-1 M283.80,380.49h-1 M283.80,379.70h-1 M303.38,435.60v1 M304.65,435.60v1 M305.72,435.60v1 M306.65,435.60v1 M307.47,435.60v1" stroke="#555" stroke-width="0.5" fill="none"/>
<text x="315.05" y="457.1" font-size="7.0" fill="#1a1a1a" text-anchor="middle" textLength="41" lengthAdjust="spacingAndGlyphs" stroke="#1a1a1a" stroke-width="0.25">&lt;APC-A&gt;: CD34</text>
<text transform="translate(262.00,403.55) rotate(-90)" x="0" y="2.38" font-size="6.6" fill="#1a1a1a" stroke="#1a1a1a" stroke-width="0.25" text-anchor="middle" textLength="54" lengthAdjust="spacingAndGlyphs">&lt;PE-YG-A&gt;: CD16/32</text>
<clipPath id="cp10"><rect x="72" y="473.7" width="63.599999999999994" height="64.09999999999997"/></clipPath>
<g clip-path="url(#cp10)"><g filter="url(#spk)">
<rect x="72.5" y="474.3" width="45" height="56" fill="#000" opacity="0.07"/>
<ellipse cx="105" cy="488.8" rx="12" ry="12" fill="url(#rg2)" opacity="1.0"/>
<ellipse cx="103" cy="487.8" rx="18" ry="15" fill="url(#rg)" opacity="0.8"/>
<ellipse cx="111" cy="499.8" rx="6" ry="14" fill="url(#rg2)" opacity="1.0"/>
<ellipse cx="97" cy="506.8" rx="13" ry="13" fill="url(#rg)" opacity="0.45"/>
<ellipse cx="86" cy="493.8" rx="12" ry="16" fill="url(#rg)" opacity="0.22"/>
<ellipse cx="103" cy="519.8" rx="8" ry="4" fill="url(#rg)" opacity="0.6"/>
<ellipse cx="118" cy="485.8" rx="8" ry="8" fill="url(#rg)" opacity="0.7"/>
<ellipse cx="125" cy="503.8" rx="10" ry="20" fill="url(#rg)" opacity="0.3"/>
<rect x="72.5" y="520.6" width="14" height="1.6" fill="#000" opacity="0.45"/>
<path d="M 118.00 523.30 L 117.80 496.80 Q 118.20 493.60 122.00 493.40 L 125.00 493.50 Q 127.80 493.80 127.90 496.80 L 128.90 520.80 Q 129.00 524.20 126.00 524.30 Z" fill="none" stroke="#000" stroke-width="3.0" opacity="0.85" filter="url(#bl1)"/>
<path d="M 100.00 521.40 Q 102.50 519.30 105.00 517.30 Q 107.50 513.80 108.00 508.80 L 108.60 505.20 Q 109.50 506.30 113.80 511.20 L 118.20 513.00 L 119.00 524.40 L 103.00 524.00 Q 99.50 523.60 100.00 521.40 Z" fill="none" stroke="#000" stroke-width="2.4" opacity="0.75" filter="url(#bl1)"/>
<ellipse cx="92" cy="491.8" rx="16" ry="18" fill="url(#rg)" opacity="0.4"/>
<ellipse cx="100" cy="479.8" rx="14" ry="7" fill="url(#rg)" opacity="0.5"/>
</g></g>
<path d="M 108.50 487.80 L 118.00 486.80 L 118.50 513.30 L 113.80 511.20 L 108.60 505.20 Z" fill="#0a0a0a"/>
<path d="M 118.00 523.30 L 117.80 496.80 Q 118.20 493.60 122.00 493.40 L 125.00 493.50 Q 127.80 493.80 127.90 496.80 L 128.90 520.80 Q 129.00 524.20 126.00 524.30 Z" fill="#f5f5f5" stroke="#1a1a1a" stroke-width="0.8"/>
<path d="M 100.00 521.40 Q 102.50 519.30 105.00 517.30 Q 107.50 513.80 108.00 508.80 L 108.60 505.20 Q 109.50 506.30 113.80 511.20 L 118.20 513.00 L 119.00 524.40 L 103.00 524.00 Q 99.50 523.60 100.00 521.40 Z" fill="#f8f8f8" stroke="#1a1a1a" stroke-width="0.7"/>
<path d="M 118.00 523.30 L 117.80 496.80 Q 118.20 493.60 122.00 493.40 L 125.00 493.50 Q 127.80 493.80 127.90 496.80 L 128.90 520.80 Q 129.00 524.20 126.00 524.30 Z" fill="none" stroke="#777" stroke-width="0.45" vector-effect="non-scaling-stroke" transform="translate(122.80,503.80) scale(0.8) translate(-122.80,-503.80)"/>
<path d="M 118.00 523.30 L 117.80 496.80 Q 118.20 493.60 122.00 493.40 L 125.00 493.50 Q 127.80 493.80 127.90 496.80 L 128.90 520.80 Q 129.00 524.20 126.00 524.30 Z" fill="none" stroke="#777" stroke-width="0.45" vector-effect="non-scaling-stroke" transform="translate(122.80,503.80) scale(0.6) translate(-122.80,-503.80)"/>
<path d="M 118.00 523.30 L 117.80 496.80 Q 118.20 493.60 122.00 493.40 L 125.00 493.50 Q 127.80 493.80 127.90 496.80 L 128.90 520.80 Q 129.00 524.20 126.00 524.30 Z" fill="none" stroke="#777" stroke-width="0.45" vector-effect="non-scaling-stroke" transform="translate(122.80,503.80) scale(0.4) translate(-122.80,-503.80)"/>
<path d="M 118.00 523.30 L 117.80 496.80 Q 118.20 493.60 122.00 493.40 L 125.00 493.50 Q 127.80 493.80 127.90 496.80 L 128.90 520.80 Q 129.00 524.20 126.00 524.30 Z" fill="none" stroke="#777" stroke-width="0.45" vector-effect="non-scaling-stroke" transform="translate(122.80,503.80) scale(0.2) translate(-122.80,-503.80)"/>
<circle cx="123.4" cy="497.8" r="0.7" fill="#222"/>
<ellipse cx="119.2" cy="519.8" rx="4.2" ry="3.0" fill="#111"/>
<ellipse cx="109.5" cy="521.4" rx="5.5" ry="1.6" fill="#555"/>
<ellipse cx="109.5" cy="521.4" rx="3" ry="0.8" fill="#bbb"/>
<rect x="72" y="473.7" width="63.599999999999994" height="64.09999999999997" fill="none" stroke="#9a9a9a" stroke-width="0.8"/>
<text x="67.20" y="482.39" font-size="5.8" fill="#222" stroke="#222" stroke-width="0.22" text-anchor="end">10<tspan font-size="3.60" dy="-2.44">5</tspan></text>
<line x1="70.5" y1="480.3" x2="72" y2="480.3" stroke="#555" stroke-width="0.6"/>
<text x="67.20" y="498.69" font-size="5.8" fill="#222" stroke="#222" stroke-width="0.22" text-anchor="end">10<tspan font-size="3.60" dy="-2.44">4</tspan></text>
<line x1="70.5" y1="496.6" x2="72" y2="496.6" stroke="#555" stroke-width="0.6"/>
<text x="67.20" y="513.89" font-size="5.8" fill="#222" stroke="#222" stroke-width="0.22" text-anchor="end">10<tspan font-size="3.60" dy="-2.44">3</tspan></text>
<line x1="70.5" y1="511.8" x2="72" y2="511.8" stroke="#555" stroke-width="0.6"/>
<text x="67.2" y="524.088" font-size="5.8" fill="#222" text-anchor="end" stroke="#222" stroke-width="0.22">0</text>
<line x1="70.5" y1="522.0" x2="72" y2="522.0" stroke="#555" stroke-width="0.6"/>
<text x="78.5" y="547.616" font-size="5.6" fill="#333" text-anchor="middle" stroke="#333" stroke-width="0.22">0</text>
<line x1="78.5" y1="537.8" x2="78.5" y2="539.4" stroke="#444" stroke-width="0.7"/>
<text x="82.35" y="547.62" font-size="5.6" fill="#333" stroke="#333" stroke-width="0.22">10<tspan font-size="3.36" dy="-2.35">2</tspan></text>
<line x1="86" y1="537.8" x2="86" y2="539.4" stroke="#444" stroke-width="0.7"/>
<text x="96.75" y="547.62" font-size="5.6" fill="#333" stroke="#333" stroke-width="0.22">10<tspan font-size="3.36" dy="-2.35">3</tspan></text>
<line x1="100.4" y1="537.8" x2="100.4" y2="539.4" stroke="#444" stroke-width="0.7"/>
<text x="111.75" y="547.62" font-size="5.6" fill="#333" stroke="#333" stroke-width="0.22">10<tspan font-size="3.36" dy="-2.35">4</tspan></text>
<line x1="115.4" y1="537.8" x2="115.4" y2="539.4" stroke="#444" stroke-width="0.7"/>
<text x="125.35" y="547.62" font-size="5.6" fill="#333" stroke="#333" stroke-width="0.22">10<tspan font-size="3.36" dy="-2.35">5</tspan></text>
<line x1="129" y1="537.8" x2="129" y2="539.4" stroke="#444" stroke-width="0.7"/>
<path d="M104.92,537.80v1 M107.56,537.80v1 M109.43,537.80v1 M110.88,537.80v1 M112.07,537.80v1 M113.08,537.80v1 M113.95,537.80v1 M114.71,537.80v1 M72.00,507.22h-1 M72.00,504.55h-1 M72.00,502.65h-1 M72.00,501.18h-1 M72.00,499.97h-1 M72.00,498.95h-1 M72.00,498.07h-1 M72.00,497.30h-1 M119.49,537.80v1 M121.89,537.80v1 M123.59,537.80v1 M124.91,537.80v1 M125.98,537.80v1 M126.89,537.80v1 M127.68,537.80v1 M128.38,537.80v1 M72.00,491.69h-1 M72.00,488.82h-1 M72.00,486.79h-1 M72.00,485.21h-1 M72.00,483.92h-1 M72.00,482.82h-1 M72.00,481.88h-1 M72.00,481.05h-1 M95.88,537.80v1 M97.07,537.80v1 M98.08,537.80v1 M98.95,537.80v1 M99.71,537.80v1" stroke="#555" stroke-width="0.5" fill="none"/>
<text x="103.8" y="559.1" font-size="7.0" fill="#1a1a1a" text-anchor="middle" textLength="65" lengthAdjust="spacingAndGlyphs" stroke="#1a1a1a" stroke-width="0.25">&lt;Pacific blue-A&gt;:: lineage</text>
<text transform="translate(50.50,505.75) rotate(-90)" x="0" y="2.38" font-size="6.6" fill="#1a1a1a" stroke="#1a1a1a" stroke-width="0.25" text-anchor="middle" textLength="66" lengthAdjust="spacingAndGlyphs">&lt;PE-Cy5-A&gt;: c-Kit/CD117</text>
<clipPath id="cp11"><rect x="178.3" y="473.7" width="62.5" height="64.09999999999997"/></clipPath>
<g clip-path="url(#cp11)"><g filter="url(#spk)">
<ellipse cx="219" cy="509.8" rx="16" ry="16" fill="url(#rg)" opacity="0.3"/>
<ellipse cx="229" cy="501.8" rx="8" ry="12" fill="url(#rg)" opacity="0.2"/>
<ellipse cx="217" cy="482.8" rx="11" ry="4" fill="url(#rg)" opacity="0.5"/>
<ellipse cx="218" cy="491.3" rx="12" ry="3.5" fill="url(#rg)" opacity="0.45"/>
<ellipse cx="196" cy="477.8" rx="10" ry="3" fill="url(#rg)" opacity="0.4"/>
<path d="M 186.50 481.80 Q 187.00 477.30 192.00 477.10 L 202.00 477.30 Q 206.50 477.80 206.50 482.80 L 206.00 491.80 Q 205.50 495.80 204.00 497.80 L 204.50 499.80 Q 209.00 498.30 213.00 499.30 Q 215.50 501.30 214.00 504.30 L 213.00 506.80 Q 215.00 510.80 220.00 514.80 Q 227.00 519.80 227.50 523.30 Q 227.00 526.60 220.00 526.60 L 196.00 526.80 Q 190.00 526.80 189.80 521.80 L 189.80 493.80 Q 187.00 489.80 186.50 481.80 Z" fill="none" stroke="#000" stroke-width="1.8" opacity="0.35" filter="url(#bl1)"/>
</g></g>
<path d="M 186.50 481.80 Q 187.00 477.30 192.00 477.10 L 202.00 477.30 Q 206.50 477.80 206.50 482.80 L 206.00 491.80 Q 205.50 495.80 204.00 497.80 L 204.50 499.80 Q 209.00 498.30 213.00 499.30 Q 215.50 501.30 214.00 504.30 L 213.00 506.80 Q 215.00 510.80 220.00 514.80 Q 227.00 519.80 227.50 523.30 Q 227.00 526.60 220.00 526.60 L 196.00 526.80 Q 190.00 526.80 189.80 521.80 L 189.80 493.80 Q 187.00 489.80 186.50 481.80 Z" fill="#e0e0e0" stroke="#2a2a2a" stroke-width="0.65"/>
<path d="M 186.50 481.80 Q 187.00 477.30 192.00 477.10 L 202.00 477.30 Q 206.50 477.80 206.50 482.80 L 206.00 491.80 Q 205.50 495.80 204.00 497.80 L 204.50 499.80 Q 209.00 498.30 213.00 499.30 Q 215.50 501.30 214.00 504.30 L 213.00 506.80 Q 215.00 510.80 220.00 514.80 Q 227.00 519.80 227.50 523.30 Q 227.00 526.60 220.00 526.60 L 196.00 526.80 Q 190.00 526.80 189.80 521.80 L 189.80 493.80 Q 187.00 489.80 186.50 481.80 Z" fill="#eeeeee" stroke="#444" stroke-width="0.5" vector-effect="non-scaling-stroke" transform="translate(198.00,509.80) scale(0.87) translate(-198.00,-509.80)"/>
<path d="M 186.50 481.80 Q 187.00 477.30 192.00 477.10 L 202.00 477.30 Q 206.50 477.80 206.50 482.80 L 206.00 491.80 Q 205.50 495.80 204.00 497.80 L 204.50 499.80 Q 209.00 498.30 213.00 499.30 Q 215.50 501.30 214.00 504.30 L 213.00 506.80 Q 215.00 510.80 220.00 514.80 Q 227.00 519.80 227.50 523.30 Q 227.00 526.60 220.00 526.60 L 196.00 526.80 Q 190.00 526.80 189.80 521.80 L 189.80 493.80 Q 187.00 489.80 186.50 481.80 Z" fill="#eeeeee" stroke="#444" stroke-width="0.5" vector-effect="non-scaling-stroke" transform="translate(198.00,509.80) scale(0.74) translate(-198.00,-509.80)"/>
<path d="M 186.50 481.80 Q 187.00 477.30 192.00 477.10 L 202.00 477.30 Q 206.50 477.80 206.50 482.80 L 206.00 491.80 Q 205.50 495.80 204.00 497.80 L 204.50 499.80 Q 209.00 498.30 213.00 499.30 Q 215.50 501.30 214.00 504.30 L 213.00 506.80 Q 215.00 510.80 220.00 514.80 Q 227.00 519.80 227.50 523.30 Q 227.00 526.60 220.00 526.60 L 196.00 526.80 Q 190.00 526.80 189.80 521.80 L 189.80 493.80 Q 187.00 489.80 186.50 481.80 Z" fill="#eeeeee" stroke="#444" stroke-width="0.5" vector-effect="non-scaling-stroke" transform="translate(198.00,509.80) scale(0.6) translate(-198.00,-509.80)"/>
<path d="M 186.50 481.80 Q 187.00 477.30 192.00 477.10 L 202.00 477.30 Q 206.50 477.80 206.50 482.80 L 206.00 491.80 Q 205.50 495.80 204.00 497.80 L 204.50 499.80 Q 209.00 498.30 213.00 499.30 Q 215.50 501.30 214.00 504.30 L 213.00 506.80 Q 215.00 510.80 220.00 514.80 Q 227.00 519.80 227.50 523.30 Q 227.00 526.60 220.00 526.60 L 196.00 526.80 Q 190.00 526.80 189.80 521.80 L 189.80 493.80 Q 187.00 489.80 186.50 481.80 Z" fill="#eeeeee" stroke="#444" stroke-width="0.5" vector-effect="non-scaling-stroke" transform="translate(198.00,509.80) scale(0.46) translate(-198.00,-509.80)"/>
<path d="M 189.00 491.80 Q 189.00 480.30 196.00 480.00 Q 203.00 480.30 203.50 487.80 L 203.00 493.80" fill="none" stroke="#444" stroke-width="0.5"/>
<path d="M 191.50 490.80 Q 192.00 482.80 196.00 482.80 Q 200.00 483.30 200.50 488.80" fill="none" stroke="#444" stroke-width="0.5"/>
<path d="M 204.50 506.80 Q 211.00 512.30 219.00 516.30" fill="none" stroke="#444" stroke-width="0.5"/>
<path d="M 206.00 503.80 Q 209.00 501.80 211.50 502.80" fill="none" stroke="#444" stroke-width="0.5"/>
<ellipse cx="195.4" cy="487.6" rx="1.6" ry="2.4" fill="#fff" stroke="#555" stroke-width="0.4"/>
<path d="M 209.00 482.20 Q 214.00 479.20 220.00 479.80 Q 226.00 480.30 227.20 483.30 Q 225.00 486.00 219.00 485.40 Q 213.00 486.40 209.00 485.40 Z" fill="#f2f2f2" stroke="#333" stroke-width="0.7"/>
<path d="M 208.00 488.30 L 227.50 488.30" stroke="#4d6790" stroke-width="2.2" stroke-dasharray="1.2 0.5" opacity="0.8"/>
<path d="M 190.20 516.30 Q 195.00 514.00 201.80 515.80 L 203.00 521.80 Q 202.40 526.80 196.00 526.80 L 190.40 526.60 Z" fill="#0d0d0d" filter="url(#bl05)"/>
<path d="M 189.90 499.80 L 192.00 499.80 L 192.40 515.80 L 190.20 515.80 Z" fill="#3a3a3a"/>
<rect x="178.3" y="473.7" width="62.5" height="64.09999999999997" fill="none" stroke="#9a9a9a" stroke-width="0.8"/>
<text x="173.50" y="482.39" font-size="5.8" fill="#222" stroke="#222" stroke-width="0.22" text-anchor="end">10<tspan font-size="3.60" dy="-2.44">5</tspan></text>
<line x1="176.8" y1="480.3" x2="178.3" y2="480.3" stroke="#555" stroke-width="0.6"/>
<text x="173.50" y="498.69" font-size="5.8" fill="#222" stroke="#222" stroke-width="0.22" text-anchor="end">10<tspan font-size="3.60" dy="-2.44">4</tspan></text>
<line x1="176.8" y1="496.6" x2="178.3" y2="496.6" stroke="#555" stroke-width="0.6"/>
<text x="173.50" y="513.89" font-size="5.8" fill="#222" stroke="#222" stroke-width="0.22" text-anchor="end">10<tspan font-size="3.60" dy="-2.44">3</tspan></text>
<line x1="176.8" y1="511.8" x2="178.3" y2="511.8" stroke="#555" stroke-width="0.6"/>
<text x="173.5" y="524.088" font-size="5.8" fill="#222" text-anchor="end" stroke="#222" stroke-width="0.22">0</text>
<line x1="176.8" y1="522.0" x2="178.3" y2="522.0" stroke="#555" stroke-width="0.6"/>
<text x="194.2" y="547.616" font-size="5.6" fill="#333" text-anchor="middle" stroke="#333" stroke-width="0.22">0</text>
<line x1="194.2" y1="537.8" x2="194.2" y2="539.4" stroke="#444" stroke-width="0.7"/>
<text x="198.15" y="547.62" font-size="5.6" fill="#333" stroke="#333" stroke-width="0.22">10<tspan font-size="3.36" dy="-2.35">3</tspan></text>
<line x1="201.8" y1="537.8" x2="201.8" y2="539.4" stroke="#444" stroke-width="0.7"/>
<text x="214.05" y="547.62" font-size="5.6" fill="#333" stroke="#333" stroke-width="0.22">10<tspan font-size="3.36" dy="-2.35">4</tspan></text>
<line x1="217.7" y1="537.8" x2="217.7" y2="539.4" stroke="#444" stroke-width="0.7"/>
<text x="229.35" y="547.62" font-size="5.6" fill="#333" stroke="#333" stroke-width="0.22">10<tspan font-size="3.36" dy="-2.35">5</tspan></text>
<line x1="233" y1="537.8" x2="233" y2="539.4" stroke="#444" stroke-width="0.7"/>
<path d="M206.59,537.80v1 M209.39,537.80v1 M211.37,537.80v1 M212.91,537.80v1 M214.17,537.80v1 M215.24,537.80v1 M216.16,537.80v1 M216.97,537.80v1 M178.30,507.22h-1 M178.30,504.55h-1 M178.30,502.65h-1 M178.30,501.18h-1 M178.30,499.97h-1 M178.30,498.95h-1 M178.30,498.07h-1 M178.30,497.30h-1 M222.31,537.80v1 M225.00,537.80v1 M226.91,537.80v1 M228.39,537.80v1 M229.61,537.80v1 M230.63,537.80v1 M231.52,537.80v1 M232.30,537.80v1 M178.30,491.69h-1 M178.30,488.82h-1 M178.30,486.79h-1 M178.30,485.21h-1 M178.30,483.92h-1 M178.30,482.82h-1 M178.30,481.88h-1 M178.30,481.05h-1 M197.01,537.80v1 M198.27,537.80v1 M199.34,537.80v1 M200.26,537.80v1 M201.07,537.80v1" stroke="#555" stroke-width="0.5" fill="none"/>
<text x="208.55" y="559.8" font-size="7.0" fill="#1a1a1a" text-anchor="middle" textLength="52" lengthAdjust="spacingAndGlyphs" stroke="#1a1a1a" stroke-width="0.25">&lt;APC-Cy7-A&gt;: Sca-1</text>
<text transform="translate(154.80,505.75) rotate(-90)" x="0" y="2.38" font-size="6.6" fill="#1a1a1a" stroke="#1a1a1a" stroke-width="0.25" text-anchor="middle" textLength="66" lengthAdjust="spacingAndGlyphs">&lt;PE-Cy5-A&gt;: c-Kit/CD117</text>
<clipPath id="cp12"><rect x="283.8" y="473.3" width="64.5" height="64.09999999999997"/></clipPath>
<g clip-path="url(#cp12)"><g filter="url(#spk)">
<ellipse cx="304" cy="506.8" rx="15" ry="18" fill="url(#rg)" opacity="0.45"/>
</g></g>
<path d="M 287.60 523.00 Q 287.20 512.80 291.50 510.00 Q 296.50 508.80 300.50 512.30 L 302.00 523.00 Z" fill="#bdbdbd" stroke="#333" stroke-width="0.5"/>
<path d="M 287.60 523.00 Q 287.20 512.80 291.50 510.00 Q 296.50 508.80 300.50 512.30 L 302.00 523.00 Z" fill="none" stroke="#555" stroke-width="0.45" vector-effect="non-scaling-stroke" transform="translate(296.00,522.80) scale(0.75) translate(-296.00,-522.80)"/>
<path d="M 287.60 523.00 Q 287.20 512.80 291.50 510.00 Q 296.50 508.80 300.50 512.30 L 302.00 523.00 Z" fill="none" stroke="#555" stroke-width="0.45" vector-effect="non-scaling-stroke" transform="translate(296.00,522.80) scale(0.5) translate(-296.00,-522.80)"/>
<path d="M 305.00 523.00 L 306.00 513.30 Q 311.00 509.40 315.60 511.40 Q 318.60 515.30 318.00 523.00 Z" fill="#bdbdbd" stroke="#333" stroke-width="0.5"/>
<path d="M 305.00 523.00 L 306.00 513.30 Q 311.00 509.40 315.60 511.40 Q 318.60 515.30 318.00 523.00 Z" fill="none" stroke="#555" stroke-width="0.45" vector-effect="non-scaling-stroke" transform="translate(312.00,522.80) scale(0.75) translate(-312.00,-522.80)"/>
<path d="M 305.00 523.00 L 306.00 513.30 Q 311.00 509.40 315.60 511.40 Q 318.60 515.30 318.00 523.00 Z" fill="none" stroke="#555" stroke-width="0.45" vector-effect="non-scaling-stroke" transform="translate(312.00,522.80) scale(0.5) translate(-312.00,-522.80)"/>
<path d="M 290.80 503.30 Q 290.50 494.80 298.00 493.80 Q 307.00 492.80 311.50 495.30 Q 315.50 498.80 315.00 505.80 L 313.80 512.80 Q 311.00 516.30 307.00 516.30 L 305.50 522.30 L 301.50 522.30 L 300.00 516.30 Q 294.00 515.80 291.60 510.80 Z" fill="#0c0c0c" filter="url(#bl05)"/>
<path d="M 299.00 522.80 L 300.50 507.80 L 306.50 507.80 L 307.50 522.80 Z" fill="#1a2436" filter="url(#bl05)"/>
<circle cx="305" cy="498.8" r="0.7" fill="#9ab"/>
<circle cx="301" cy="503.8" r="0.5" fill="#789"/>
<rect x="283.8" y="473.3" width="64.5" height="64.09999999999997" fill="none" stroke="#9a9a9a" stroke-width="0.8"/>
<text x="279.00" y="482.89" font-size="5.8" fill="#222" stroke="#222" stroke-width="0.22" text-anchor="end">10<tspan font-size="3.60" dy="-2.44">5</tspan></text>
<line x1="282.3" y1="480.8" x2="283.8" y2="480.8" stroke="#555" stroke-width="0.6"/>
<text x="279.00" y="498.29" font-size="5.8" fill="#222" stroke="#222" stroke-width="0.22" text-anchor="end">10<tspan font-size="3.60" dy="-2.44">4</tspan></text>
<line x1="282.3" y1="496.2" x2="283.8" y2="496.2" stroke="#555" stroke-width="0.6"/>
<text x="279.00" y="513.69" font-size="5.8" fill="#222" stroke="#222" stroke-width="0.22" text-anchor="end">10<tspan font-size="3.60" dy="-2.44">3</tspan></text>
<line x1="282.3" y1="511.6" x2="283.8" y2="511.6" stroke="#555" stroke-width="0.6"/>
<text x="279.0" y="523.4879999999999" font-size="5.8" fill="#222" text-anchor="end" stroke="#222" stroke-width="0.22">0</text>
<line x1="282.3" y1="521.4" x2="283.8" y2="521.4" stroke="#555" stroke-width="0.6"/>
<text x="300.6" y="547.616" font-size="5.6" fill="#333" text-anchor="middle" stroke="#333" stroke-width="0.22">0</text>
<line x1="300.6" y1="537.4" x2="300.6" y2="539.0" stroke="#444" stroke-width="0.7"/>
<text x="304.55" y="547.62" font-size="5.6" fill="#333" stroke="#333" stroke-width="0.22">10<tspan font-size="3.36" dy="-2.35">3</tspan></text>
<line x1="308.2" y1="537.4" x2="308.2" y2="539.0" stroke="#444" stroke-width="0.7"/>
<text x="320.55" y="547.62" font-size="5.6" fill="#333" stroke="#333" stroke-width="0.22">10<tspan font-size="3.36" dy="-2.35">4</tspan></text>
<line x1="324.2" y1="537.4" x2="324.2" y2="539.0" stroke="#444" stroke-width="0.7"/>
<text x="335.95" y="547.62" font-size="5.6" fill="#333" stroke="#333" stroke-width="0.22">10<tspan font-size="3.36" dy="-2.35">5</tspan></text>
<line x1="339.6" y1="537.4" x2="339.6" y2="539.0" stroke="#444" stroke-width="0.7"/>
<path d="M313.02,537.40v1 M315.83,537.40v1 M317.83,537.40v1 M319.38,537.40v1 M320.65,537.40v1 M321.72,537.40v1 M322.65,537.40v1 M323.47,537.40v1 M283.80,506.96h-1 M283.80,504.25h-1 M283.80,502.33h-1 M283.80,500.84h-1 M283.80,499.62h-1 M283.80,498.59h-1 M283.80,497.69h-1 M283.80,496.90h-1 M328.84,537.40v1 M331.55,537.40v1 M333.47,537.40v1 M334.96,537.40v1 M336.18,537.40v1 M337.21,537.40v1 M338.11,537.40v1 M338.90,537.40v1 M283.80,491.56h-1 M283.80,488.85h-1 M283.80,486.93h-1 M283.80,485.44h-1 M283.80,484.22h-1 M283.80,483.19h-1 M283.80,482.29h-1 M283.80,481.50h-1 M303.38,537.40v1 M304.65,537.40v1 M305.72,537.40v1 M306.65,537.40v1 M307.47,537.40v1" stroke="#555" stroke-width="0.5" fill="none"/>
<text x="315.05" y="558.9" font-size="7.0" fill="#1a1a1a" text-anchor="middle" textLength="41" lengthAdjust="spacingAndGlyphs" stroke="#1a1a1a" stroke-width="0.25">&lt;APC-A&gt;: CD34</text>
<text transform="translate(262.00,505.35) rotate(-90)" x="0" y="2.38" font-size="6.6" fill="#1a1a1a" stroke="#1a1a1a" stroke-width="0.25" text-anchor="middle" textLength="54" lengthAdjust="spacingAndGlyphs">&lt;PE-YG-A&gt;: CD16/32</text>
<rect x="78.5" y="62.3" width="43.10" height="65.00" fill="none" stroke="#6a83ad" stroke-width="0.9"/>
<line x1="121.6" y1="66.4" x2="142.60" y2="66.4" stroke="#2b4f78" stroke-width="1.2"/><path d="M141.80,64.60 L145.80,66.40 L141.80,68.20 Z" fill="#2b4f78"/>
<rect x="95.00" y="92.44" width="11.60" height="6.12" fill="#fff" fill-opacity="0.85"/><text x="100.8" y="97.95" font-size="6.8" fill="#3f6aa0" text-anchor="middle" textLength="10" lengthAdjust="spacingAndGlyphs">37.6</text>
<rect x="77.3" y="168.3" width="43.20" height="66.10" fill="none" stroke="#6a83ad" stroke-width="0.9"/>
<line x1="120.5" y1="173.3" x2="142.60" y2="173.3" stroke="#2b4f78" stroke-width="1.2"/><path d="M141.80,171.50 L145.80,173.30 L141.80,175.10 Z" fill="#2b4f78"/>
<rect x="90.50" y="198.45" width="14.60" height="6.30" fill="#fff" fill-opacity="0.85"/><text x="97.8" y="204.12" font-size="7" fill="#3f6aa0" text-anchor="middle" textLength="13" lengthAdjust="spacingAndGlyphs">35.7</text>
<rect x="202.5" y="63.0" width="31.10" height="18.30" fill="none" stroke="#6a83ad" stroke-width="0.9"/>
<line x1="233.6" y1="66.2" x2="247.00" y2="66.2" stroke="#2b4f78" stroke-width="1.2"/><path d="M246.20,64.40 L250.20,66.20 L246.20,68.00 Z" fill="#2b4f78"/>
<rect x="210.30" y="69.45" width="18.60" height="6.30" fill="#fff" fill-opacity="0.85"/><text x="219.6" y="75.12" font-size="7" fill="#3f6aa0" text-anchor="middle" textLength="17" lengthAdjust="spacingAndGlyphs">0.984</text>
<rect x="202.5" y="169.0" width="31.20" height="18.30" fill="none" stroke="#6a83ad" stroke-width="0.9"/>
<line x1="233.7" y1="172.5" x2="247.00" y2="172.5" stroke="#2b4f78" stroke-width="1.2"/><path d="M246.20,170.70 L250.20,172.50 L246.20,174.30 Z" fill="#2b4f78"/>
<rect x="210.00" y="175.45" width="18.60" height="6.30" fill="#fff" fill-opacity="0.85"/><text x="219.3" y="181.12" font-size="7" fill="#3f6aa0" text-anchor="middle" textLength="17" lengthAdjust="spacingAndGlyphs">0.604</text>
<rect x="282.2" y="62.2" width="64.80" height="23.20" fill="none" stroke="#6a83ad" stroke-width="0.9"/>
<line x1="317.9" y1="62.2" x2="317.9" y2="85.4" stroke="#6a83ad" stroke-width="0.9"/>
<line x1="326.8" y1="62.2" x2="326.8" y2="85.4" stroke="#6a83ad" stroke-width="0.9"/>
<rect x="282.2" y="168.5" width="64.80" height="23.20" fill="none" stroke="#6a83ad" stroke-width="0.9"/>
<line x1="317.9" y1="168.5" x2="317.9" y2="191.7" stroke="#6a83ad" stroke-width="0.9"/>
<line x1="326.8" y1="168.5" x2="326.8" y2="191.7" stroke="#6a83ad" stroke-width="0.9"/>
<text x="299.8" y="84.63" font-size="6.2" fill="#3f6aa0" text-anchor="middle">38</text>
<text x="336.3" y="84.63" font-size="6.2" fill="#3f6aa0" text-anchor="middle">35.2</text>
<text x="321.6" y="92.63" font-size="6.2" fill="#3f6aa0" text-anchor="middle">26.6</text>
<text x="299.1" y="94.18" font-size="6.6" fill="#1a1a1a" text-anchor="middle" textLength="13.2" lengthAdjust="spacingAndGlyphs">HSC</text>
<text x="321.0" y="101.18" font-size="6.6" fill="#1a1a1a" text-anchor="middle" textLength="12.5" lengthAdjust="spacingAndGlyphs">MPP</text>
<text x="332.0" y="116.28" font-size="6.6" fill="#1a1a1a" text-anchor="middle" textLength="16.6" lengthAdjust="spacingAndGlyphs">LMPP</text>
<line x1="338.5" y1="106.5" x2="338.5" y2="89.80" stroke="#111" stroke-width="0.9"/><path d="M337.00,90.20 L338.50,86.80 L340.00,90.20 Z" fill="#111"/>
<text x="299.3" y="199.63" font-size="6.2" fill="#3f6aa0" text-anchor="middle">31.9</text>
<text x="320.8" y="199.63" font-size="6.2" fill="#3f6aa0" text-anchor="middle">32.3</text>
<text x="337.0" y="199.63" font-size="6.2" fill="#3f6aa0" text-anchor="middle">35.2</text>
<rect x="72.4" y="372.0" width="42.00" height="55.30" fill="none" stroke="#6a83ad" stroke-width="0.9"/>
<line x1="114.4" y1="376.3" x2="143.00" y2="376.3" stroke="#2b4f78" stroke-width="1.2"/><path d="M142.20,374.50 L146.20,376.30 L142.20,378.10 Z" fill="#2b4f78"/>
<text x="79.9" y="394.15" font-size="6.8" fill="#3f6aa0" text-anchor="middle" textLength="11.6" lengthAdjust="spacingAndGlyphs">27.7</text>
<rect x="71.6" y="473.7" width="42.80" height="55.70" fill="none" stroke="#6a83ad" stroke-width="0.9"/>
<line x1="114.4" y1="480.0" x2="143.00" y2="480.0" stroke="#2b4f78" stroke-width="1.2"/><path d="M142.20,478.20 L146.20,480.00 L142.20,481.80 Z" fill="#2b4f78"/>
<text x="79.6" y="495.35" font-size="6.8" fill="#3f6aa0" text-anchor="middle" textLength="11.2" lengthAdjust="spacingAndGlyphs">21.2</text>
<rect x="184.1" y="373.2" width="23.90" height="19.60" fill="none" stroke="#6a83ad" stroke-width="0.9"/>
<rect x="208.0" y="373.2" width="22.60" height="19.60" fill="none" stroke="#6a83ad" stroke-width="0.9"/>
<line x1="230.6" y1="388.9" x2="246.00" y2="388.9" stroke="#2b4f78" stroke-width="1.2"/><path d="M245.20,387.10 L249.20,388.90 L245.20,390.70 Z" fill="#2b4f78"/>
<text x="179.6" y="377.43" font-size="6.2" fill="#3f6aa0" text-anchor="start" textLength="7.5" lengthAdjust="spacingAndGlyphs">4.2</text>
<text x="225.9" y="377.43" font-size="6.2" fill="#3f6aa0" text-anchor="start" textLength="15.5" lengthAdjust="spacingAndGlyphs">0.708</text>
<rect x="183.1" y="474.4" width="24.20" height="20.20" fill="none" stroke="#6a83ad" stroke-width="0.9"/>
<rect x="207.3" y="474.4" width="22.50" height="20.20" fill="none" stroke="#6a83ad" stroke-width="0.9"/>
<line x1="229.8" y1="491.7" x2="246.00" y2="491.7" stroke="#2b4f78" stroke-width="1.2"/><path d="M245.20,489.90 L249.20,491.70 L245.20,493.50 Z" fill="#2b4f78"/>
<text x="179.6" y="480.23" font-size="6.2" fill="#3f6aa0" text-anchor="start" textLength="7.5" lengthAdjust="spacingAndGlyphs">4.2</text>
<text x="225.0" y="480.23" font-size="6.2" fill="#3f6aa0" text-anchor="start" textLength="15.5" lengthAdjust="spacingAndGlyphs">0.414</text>
<text x="192.3" y="369.09" font-size="7.2" fill="#1a1a1a" text-anchor="middle">LK</text>
<rect x="302.0" y="388.4" width="19.20" height="17.30" fill="none" stroke="#6a83ad" stroke-width="0.9"/>
<rect x="302.0" y="405.7" width="19.20" height="16.80" fill="none" stroke="#6a83ad" stroke-width="0.9"/>
<rect x="288.5" y="405.2" width="13.50" height="17.30" fill="none" stroke="#6a83ad" stroke-width="0.9"/>
<text x="328.0" y="390.50" font-size="6.4" fill="#1a1a1a" text-anchor="middle" textLength="13.5" lengthAdjust="spacingAndGlyphs">GMP</text>
<text x="332.4" y="396.83" font-size="6.2" fill="#3f6aa0" text-anchor="middle">41.8</text>
<text x="332.6" y="418.83" font-size="6.2" fill="#3f6aa0" text-anchor="middle">20.4</text>
<text x="328.7" y="426.20" font-size="6.4" fill="#1a1a1a" text-anchor="middle" textLength="13.4" lengthAdjust="spacingAndGlyphs">CMP</text>
<text x="295.6" y="430.43" font-size="6.2" fill="#3f6aa0" text-anchor="middle">11.1</text>
<text x="291.8" y="384.53" font-size="6.2" fill="#1a1a1a" text-anchor="middle" textLength="11.9" lengthAdjust="spacingAndGlyphs">MEP</text>
<line x1="290.0" y1="385.5" x2="290.0" y2="401.50" stroke="#111" stroke-width="0.9"/><path d="M288.50,401.10 L290.00,404.50 L291.50,401.10 Z" fill="#111"/>
<rect x="301.5" y="490.4" width="19.30" height="16.10" fill="none" stroke="#6a83ad" stroke-width="0.9"/>
<rect x="301.5" y="506.5" width="19.30" height="17.90" fill="none" stroke="#6a83ad" stroke-width="0.9"/>
<rect x="287.3" y="507.0" width="14.20" height="17.40" fill="none" stroke="#6a83ad" stroke-width="0.9"/>
<text x="331.4" y="497.83" font-size="6.2" fill="#3f6aa0" text-anchor="middle">43.8</text>
<text x="331.0" y="519.53" font-size="6.2" fill="#3f6aa0" text-anchor="middle">17.8</text>
<text x="294.5" y="531.83" font-size="6.2" fill="#3f6aa0" text-anchor="middle">11.4</text>
<text x="219.8" y="59.96" font-size="7.4" fill="#1a1a1a" text-anchor="middle">LSK</text>
<text x="17.6" y="102.9" font-size="8" font-style="italic" fill="#333" stroke="#333" stroke-width="0.15" textLength="22.8" lengthAdjust="spacingAndGlyphs">Evi1<tspan font-size="5.2" dy="-4.0" dx="0.3">+/+</tspan></text>
<text x="17.6" y="204.3" font-size="8" font-style="italic" fill="#333" stroke="#333" stroke-width="0.15" textLength="23.2" lengthAdjust="spacingAndGlyphs">Evi1<tspan font-size="5.2" dy="-4.0" dx="0.3">KI/+</tspan></text>
<text x="17.6" y="404.8" font-size="8" font-style="italic" fill="#333" stroke="#333" stroke-width="0.15" textLength="22.8" lengthAdjust="spacingAndGlyphs">Evi1<tspan font-size="5.2" dy="-4.0" dx="0.3">+/+</tspan></text>
<text x="17.6" y="507.0" font-size="8" font-style="italic" fill="#333" stroke="#333" stroke-width="0.15" textLength="23.2" lengthAdjust="spacingAndGlyphs">Evi1<tspan font-size="5.2" dy="-4.0" dx="0.3">KI/+</tspan></text>
<line x1="394.6" y1="33.40" x2="394.6" y2="129.90" stroke="#1a1a1a" stroke-width="1.1"/>
<line x1="394.1" y1="129.3" x2="511.8" y2="129.3" stroke="#1a1a1a" stroke-width="1.1"/>
<line x1="392.20000000000005" y1="129.30" x2="394.6" y2="129.30" stroke="#333" stroke-width="0.7"/>
<text x="389.6" y="131.60000000000002" font-size="6.5" fill="#222" text-anchor="end" stroke="#222" stroke-width="0.15">0</text>
<line x1="392.20000000000005" y1="113.72" x2="394.6" y2="113.72" stroke="#333" stroke-width="0.7"/>
<text x="389.6" y="116.01666666666667" font-size="6.5" fill="#222" text-anchor="end" stroke="#222" stroke-width="0.15">5</text>
<line x1="392.20000000000005" y1="98.13" x2="394.6" y2="98.13" stroke="#333" stroke-width="0.7"/>
<text x="389.6" y="100.43333333333334" font-size="6.5" fill="#222" text-anchor="end" stroke="#222" stroke-width="0.15">10</text>
<line x1="392.20000000000005" y1="82.55" x2="394.6" y2="82.55" stroke="#333" stroke-width="0.7"/>
<text x="389.6" y="84.85000000000001" font-size="6.5" fill="#222" text-anchor="end" stroke="#222" stroke-width="0.15">15</text>
<line x1="392.20000000000005" y1="66.97" x2="394.6" y2="66.97" stroke="#333" stroke-width="0.7"/>
<text x="389.6" y="69.26666666666667" font-size="6.5" fill="#222" text-anchor="end" stroke="#222" stroke-width="0.15">20</text>
<line x1="392.20000000000005" y1="51.38" x2="394.6" y2="51.38" stroke="#333" stroke-width="0.7"/>
<text x="389.6" y="53.68333333333332" font-size="6.5" fill="#222" text-anchor="end" stroke="#222" stroke-width="0.15">25</text>
<line x1="392.20000000000005" y1="35.80" x2="394.6" y2="35.80" stroke="#333" stroke-width="0.7"/>
<text x="389.6" y="38.099999999999994" font-size="6.5" fill="#222" text-anchor="end" stroke="#222" stroke-width="0.15">30</text>
<line x1="393.3" y1="129.30" x2="394.6" y2="129.30" stroke="#555" stroke-width="0.5"/>
<line x1="393.3" y1="126.18" x2="394.6" y2="126.18" stroke="#555" stroke-width="0.5"/>
<line x1="393.3" y1="123.07" x2="394.6" y2="123.07" stroke="#555" stroke-width="0.5"/>
<line x1="393.3" y1="119.95" x2="394.6" y2="119.95" stroke="#555" stroke-width="0.5"/>
<line x1="393.3" y1="116.83" x2="394.6" y2="116.83" stroke="#555" stroke-width="0.5"/>
<line x1="393.3" y1="113.72" x2="394.6" y2="113.72" stroke="#555" stroke-width="0.5"/>
<line x1="393.3" y1="110.60" x2="394.6" y2="110.60" stroke="#555" stroke-width="0.5"/>
<line x1="393.3" y1="107.48" x2="394.6" y2="107.48" stroke="#555" stroke-width="0.5"/>
<line x1="393.3" y1="104.37" x2="394.6" y2="104.37" stroke="#555" stroke-width="0.5"/>
<line x1="393.3" y1="101.25" x2="394.6" y2="101.25" stroke="#555" stroke-width="0.5"/>
<line x1="393.3" y1="98.13" x2="394.6" y2="98.13" stroke="#555" stroke-width="0.5"/>
<line x1="393.3" y1="95.02" x2="394.6" y2="95.02" stroke="#555" stroke-width="0.5"/>
<line x1="393.3" y1="91.90" x2="394.6" y2="91.90" stroke="#555" stroke-width="0.5"/>
<line x1="393.3" y1="88.78" x2="394.6" y2="88.78" stroke="#555" stroke-width="0.5"/>
<line x1="393.3" y1="85.67" x2="394.6" y2="85.67" stroke="#555" stroke-width="0.5"/>
<line x1="393.3" y1="82.55" x2="394.6" y2="82.55" stroke="#555" stroke-width="0.5"/>
<line x1="393.3" y1="79.43" x2="394.6" y2="79.43" stroke="#555" stroke-width="0.5"/>
<line x1="393.3" y1="76.32" x2="394.6" y2="76.32" stroke="#555" stroke-width="0.5"/>
<line x1="393.3" y1="73.20" x2="394.6" y2="73.20" stroke="#555" stroke-width="0.5"/>
<line x1="393.3" y1="70.08" x2="394.6" y2="70.08" stroke="#555" stroke-width="0.5"/>
<line x1="393.3" y1="66.97" x2="394.6" y2="66.97" stroke="#555" stroke-width="0.5"/>
<line x1="393.3" y1="63.85" x2="394.6" y2="63.85" stroke="#555" stroke-width="0.5"/>
<line x1="393.3" y1="60.73" x2="394.6" y2="60.73" stroke="#555" stroke-width="0.5"/>
<line x1="393.3" y1="57.62" x2="394.6" y2="57.62" stroke="#555" stroke-width="0.5"/>
<line x1="393.3" y1="54.50" x2="394.6" y2="54.50" stroke="#555" stroke-width="0.5"/>
<line x1="393.3" y1="51.38" x2="394.6" y2="51.38" stroke="#555" stroke-width="0.5"/>
<line x1="393.3" y1="48.27" x2="394.6" y2="48.27" stroke="#555" stroke-width="0.5"/>
<line x1="393.3" y1="45.15" x2="394.6" y2="45.15" stroke="#555" stroke-width="0.5"/>
<line x1="393.3" y1="42.03" x2="394.6" y2="42.03" stroke="#555" stroke-width="0.5"/>
<line x1="393.3" y1="38.92" x2="394.6" y2="38.92" stroke="#555" stroke-width="0.5"/>
<line x1="393.3" y1="35.80" x2="394.6" y2="35.80" stroke="#555" stroke-width="0.5"/>
<line x1="424.2" y1="129.3" x2="424.2" y2="131.70000000000002" stroke="#333" stroke-width="0.7"/>
<text x="424.2" y="140.56" font-size="6.0" fill="#1a1a1a" text-anchor="middle" stroke="#1a1a1a" stroke-width="0.18">WT</text>
<line x1="482.3" y1="129.3" x2="482.3" y2="131.70000000000002" stroke="#333" stroke-width="0.7"/>
<text x="482.3" y="140.56" font-size="6.0" fill="#1a1a1a" text-anchor="middle" stroke="#1a1a1a" stroke-width="0.18">KI</text>
<text x="453.5" y="27.964000000000002" font-size="7.4" fill="#1a1a1a" text-anchor="middle" stroke="#1a1a1a" stroke-width="0.2">LSK</text>
<line x1="423.8" y1="43.5" x2="483.8" y2="43.5" stroke="#333" stroke-width="1.1"/>
<text x="453.80" y="41.10" font-size="6.0" fill="#222" stroke="#222" stroke-width="0.12" text-anchor="middle"><tspan font-style="italic">P</tspan> = .034</text>
<circle cx="424.20" cy="54.50" r="0.75" fill="#cc4a62"/>
<circle cx="424.20" cy="84.73" r="0.75" fill="#cc4a62"/>
<circle cx="424.20" cy="83.17" r="0.75" fill="#cc4a62"/>
<circle cx="424.20" cy="74.76" r="0.75" fill="#cc4a62"/>
<circle cx="424.20" cy="78.81" r="0.75" fill="#cc4a62"/>
<line x1="424.2" y1="70.08" x2="424.2" y2="80.99" stroke="#2a2226" stroke-width="0.85"/>
<line x1="416.9" y1="70.08" x2="431.5" y2="70.08" stroke="#1a1a1a" stroke-width="1.1"/>
<line x1="416.9" y1="80.99" x2="431.5" y2="80.99" stroke="#1a1a1a" stroke-width="1.1"/>
<path d="M422.60,75.38 L424.20,73.98 L425.80,75.38 L424.20,76.78 Z" fill="#5a1a2c"/>
<circle cx="482.30" cy="76.32" r="0.75" fill="#cc4a62"/>
<circle cx="482.30" cy="111.54" r="0.75" fill="#cc4a62"/>
<circle cx="482.30" cy="95.02" r="0.75" fill="#cc4a62"/>
<circle cx="482.30" cy="93.15" r="0.75" fill="#cc4a62"/>
<circle cx="482.30" cy="102.19" r="0.75" fill="#cc4a62"/>
<line x1="482.3" y1="90.34" x2="482.3" y2="101.87" stroke="#2a2226" stroke-width="0.85"/>
<line x1="474.8" y1="90.34" x2="489.8" y2="90.34" stroke="#1a1a1a" stroke-width="1.1"/>
<line x1="474.8" y1="101.87" x2="489.8" y2="101.87" stroke="#1a1a1a" stroke-width="1.1"/>
<path d="M480.70,95.33 L482.30,93.93 L483.90,95.33 L482.30,96.73 Z" fill="#5a1a2c"/>
<text transform="translate(376.4,82.55) rotate(-90)" x="0" y="0" font-size="6.8" fill="#222" stroke="#222" stroke-width="0.2" text-anchor="middle" textLength="74" lengthAdjust="spacingAndGlyphs">Nucleated cell number (× 10<tspan font-size="4" dy="-2.4">3</tspan><tspan dy="2.4">)</tspan></text>
<line x1="394.6" y1="172.50" x2="394.6" y2="265.80" stroke="#1a1a1a" stroke-width="1.1"/>
<line x1="394.1" y1="265.2" x2="512" y2="265.2" stroke="#1a1a1a" stroke-width="1.1"/>
<line x1="392.20000000000005" y1="265.20" x2="394.6" y2="265.20" stroke="#333" stroke-width="0.7"/>
<text x="389.6" y="267.5" font-size="6.5" fill="#222" text-anchor="end" stroke="#222" stroke-width="0.15">0</text>
<line x1="392.20000000000005" y1="247.14" x2="394.6" y2="247.14" stroke="#333" stroke-width="0.7"/>
<text x="389.6" y="249.44" font-size="6.5" fill="#222" text-anchor="end" stroke="#222" stroke-width="0.15">2</text>
<line x1="392.20000000000005" y1="229.08" x2="394.6" y2="229.08" stroke="#333" stroke-width="0.7"/>
<text x="389.6" y="231.38" font-size="6.5" fill="#222" text-anchor="end" stroke="#222" stroke-width="0.15">4</text>
<line x1="392.20000000000005" y1="211.02" x2="394.6" y2="211.02" stroke="#333" stroke-width="0.7"/>
<text x="389.6" y="213.32000000000002" font-size="6.5" fill="#222" text-anchor="end" stroke="#222" stroke-width="0.15">6</text>
<line x1="392.20000000000005" y1="192.96" x2="394.6" y2="192.96" stroke="#333" stroke-width="0.7"/>
<text x="389.6" y="195.26000000000002" font-size="6.5" fill="#222" text-anchor="end" stroke="#222" stroke-width="0.15">8</text>
<line x1="392.20000000000005" y1="174.90" x2="394.6" y2="174.90" stroke="#333" stroke-width="0.7"/>
<text x="389.6" y="177.20000000000002" font-size="6.5" fill="#222" text-anchor="end" stroke="#222" stroke-width="0.15">10</text>
<line x1="393.3" y1="265.20" x2="394.6" y2="265.20" stroke="#555" stroke-width="0.5"/>
<line x1="393.3" y1="260.69" x2="394.6" y2="260.69" stroke="#555" stroke-width="0.5"/>
<line x1="393.3" y1="256.17" x2="394.6" y2="256.17" stroke="#555" stroke-width="0.5"/>
<line x1="393.3" y1="251.66" x2="394.6" y2="251.66" stroke="#555" stroke-width="0.5"/>
<line x1="393.3" y1="247.14" x2="394.6" y2="247.14" stroke="#555" stroke-width="0.5"/>
<line x1="393.3" y1="242.62" x2="394.6" y2="242.62" stroke="#555" stroke-width="0.5"/>
<line x1="393.3" y1="238.11" x2="394.6" y2="238.11" stroke="#555" stroke-width="0.5"/>
<line x1="393.3" y1="233.59" x2="394.6" y2="233.59" stroke="#555" stroke-width="0.5"/>
<line x1="393.3" y1="229.08" x2="394.6" y2="229.08" stroke="#555" stroke-width="0.5"/>
<line x1="393.3" y1="224.56" x2="394.6" y2="224.56" stroke="#555" stroke-width="0.5"/>
<line x1="393.3" y1="220.05" x2="394.6" y2="220.05" stroke="#555" stroke-width="0.5"/>
<line x1="393.3" y1="215.53" x2="394.6" y2="215.53" stroke="#555" stroke-width="0.5"/>
<line x1="393.3" y1="211.02" x2="394.6" y2="211.02" stroke="#555" stroke-width="0.5"/>
<line x1="393.3" y1="206.50" x2="394.6" y2="206.50" stroke="#555" stroke-width="0.5"/>
<line x1="393.3" y1="201.99" x2="394.6" y2="201.99" stroke="#555" stroke-width="0.5"/>
<line x1="393.3" y1="197.48" x2="394.6" y2="197.48" stroke="#555" stroke-width="0.5"/>
<line x1="393.3" y1="192.96" x2="394.6" y2="192.96" stroke="#555" stroke-width="0.5"/>
<line x1="393.3" y1="188.44" x2="394.6" y2="188.44" stroke="#555" stroke-width="0.5"/>
<line x1="393.3" y1="183.93" x2="394.6" y2="183.93" stroke="#555" stroke-width="0.5"/>
<line x1="393.3" y1="179.42" x2="394.6" y2="179.42" stroke="#555" stroke-width="0.5"/>
<line x1="393.3" y1="174.90" x2="394.6" y2="174.90" stroke="#555" stroke-width="0.5"/>
<line x1="404.7" y1="265.2" x2="404.7" y2="267.59999999999997" stroke="#333" stroke-width="0.7"/>
<text x="404.7" y="277.736" font-size="7.6" fill="#1a1a1a" text-anchor="middle" stroke="#1a1a1a" stroke-width="0.18">WT</text>
<line x1="424.3" y1="265.2" x2="424.3" y2="267.59999999999997" stroke="#333" stroke-width="0.7"/>
<text x="424.3" y="277.736" font-size="7.6" fill="#1a1a1a" text-anchor="middle" stroke="#1a1a1a" stroke-width="0.18">KI</text>
<line x1="443.9" y1="265.2" x2="443.9" y2="267.59999999999997" stroke="#333" stroke-width="0.7"/>
<text x="443.9" y="277.736" font-size="7.6" fill="#1a1a1a" text-anchor="middle" stroke="#1a1a1a" stroke-width="0.18">WT</text>
<line x1="463.3" y1="265.2" x2="463.3" y2="267.59999999999997" stroke="#333" stroke-width="0.7"/>
<text x="463.3" y="277.736" font-size="7.6" fill="#1a1a1a" text-anchor="middle" stroke="#1a1a1a" stroke-width="0.18">KI</text>
<line x1="482.7" y1="265.2" x2="482.7" y2="267.59999999999997" stroke="#333" stroke-width="0.7"/>
<text x="482.7" y="277.736" font-size="7.6" fill="#1a1a1a" text-anchor="middle" stroke="#1a1a1a" stroke-width="0.18">WT</text>
<line x1="502.3" y1="265.2" x2="502.3" y2="267.59999999999997" stroke="#333" stroke-width="0.7"/>
<text x="502.3" y="277.736" font-size="7.6" fill="#1a1a1a" text-anchor="middle" stroke="#1a1a1a" stroke-width="0.18">KI</text>
<text x="453.6" y="162.99200000000002" font-size="7.2" fill="#1a1a1a" text-anchor="middle" stroke="#1a1a1a" stroke-width="0.2">HSC / MPP / LMPP</text>
<line x1="403.8" y1="192.0" x2="426.2" y2="192.0" stroke="#333" stroke-width="1.1"/>
<text x="415.00" y="189.60" font-size="6.0" fill="#222" stroke="#222" stroke-width="0.12" text-anchor="middle"><tspan font-style="italic">P</tspan> = .002</text>
<line x1="443.9" y1="185.8" x2="467.0" y2="185.8" stroke="#333" stroke-width="1.1"/>
<text x="455.45" y="183.40" font-size="6.0" fill="#222" stroke="#222" stroke-width="0.12" text-anchor="middle"><tspan font-style="italic">P</tspan> = .106</text>
<line x1="486.2" y1="174.2" x2="507.6" y2="174.2" stroke="#333" stroke-width="1.1"/>
<text x="496.90" y="171.80" font-size="6.0" fill="#222" stroke="#222" stroke-width="0.12" text-anchor="middle"><tspan font-style="italic">P</tspan> = .114</text>
<circle cx="404.70" cy="200.18" r="0.75" fill="#cc4a62"/>
<circle cx="404.70" cy="203.80" r="0.75" fill="#cc4a62"/>
<circle cx="404.70" cy="222.76" r="0.75" fill="#cc4a62"/>
<circle cx="404.70" cy="212.83" r="0.75" fill="#cc4a62"/>
<circle cx="404.70" cy="209.21" r="0.75" fill="#cc4a62"/>
<line x1="404.7" y1="207.41" x2="404.7" y2="215.53" stroke="#2a2226" stroke-width="0.85"/>
<line x1="402.09999999999997" y1="207.41" x2="407.3" y2="207.41" stroke="#1a1a1a" stroke-width="1.1"/>
<line x1="402.09999999999997" y1="215.53" x2="407.3" y2="215.53" stroke="#1a1a1a" stroke-width="1.1"/>
<path d="M403.10,211.02 L404.70,209.62 L406.30,211.02 L404.70,212.42 Z" fill="#5a1a2c"/>
<circle cx="424.30" cy="227.27" r="0.75" fill="#cc4a62"/>
<circle cx="424.30" cy="242.62" r="0.75" fill="#cc4a62"/>
<circle cx="424.30" cy="244.43" r="0.75" fill="#cc4a62"/>
<circle cx="424.30" cy="238.11" r="0.75" fill="#cc4a62"/>
<line x1="424.3" y1="233.59" x2="424.3" y2="239.92" stroke="#2a2226" stroke-width="0.85"/>
<line x1="421.7" y1="233.59" x2="426.90000000000003" y2="233.59" stroke="#1a1a1a" stroke-width="1.1"/>
<line x1="421.7" y1="239.92" x2="426.90000000000003" y2="239.92" stroke="#1a1a1a" stroke-width="1.1"/>
<path d="M422.70,236.30 L424.30,234.90 L425.90,236.30 L424.30,237.70 Z" fill="#5a1a2c"/>
<circle cx="443.90" cy="194.77" r="0.75" fill="#cc4a62"/>
<circle cx="443.90" cy="220.95" r="0.75" fill="#cc4a62"/>
<circle cx="443.90" cy="226.37" r="0.75" fill="#cc4a62"/>
<line x1="443.9" y1="212.37" x2="443.9" y2="224.56" stroke="#2a2226" stroke-width="0.85"/>
<line x1="441.29999999999995" y1="212.37" x2="446.5" y2="212.37" stroke="#1a1a1a" stroke-width="1.1"/>
<line x1="441.29999999999995" y1="224.56" x2="446.5" y2="224.56" stroke="#1a1a1a" stroke-width="1.1"/>
<path d="M442.30,219.15 L443.90,217.75 L445.50,219.15 L443.90,220.55 Z" fill="#5a1a2c"/>
<circle cx="463.30" cy="214.63" r="0.75" fill="#cc4a62"/>
<circle cx="463.30" cy="248.95" r="0.75" fill="#cc4a62"/>
<circle cx="463.30" cy="235.40" r="0.75" fill="#cc4a62"/>
<line x1="463.3" y1="228.18" x2="463.3" y2="239.92" stroke="#2a2226" stroke-width="0.85"/>
<line x1="460.7" y1="228.18" x2="465.90000000000003" y2="228.18" stroke="#1a1a1a" stroke-width="1.1"/>
<line x1="460.7" y1="239.92" x2="465.90000000000003" y2="239.92" stroke="#1a1a1a" stroke-width="1.1"/>
<path d="M461.70,232.69 L463.30,231.29 L464.90,232.69 L463.30,234.09 Z" fill="#5a1a2c"/>
<circle cx="482.70" cy="183.93" r="0.75" fill="#cc4a62"/>
<circle cx="482.70" cy="228.18" r="0.75" fill="#cc4a62"/>
<circle cx="482.70" cy="212.83" r="0.75" fill="#cc4a62"/>
<line x1="482.7" y1="201.99" x2="482.7" y2="217.34" stroke="#2a2226" stroke-width="0.85"/>
<line x1="480.09999999999997" y1="201.99" x2="485.3" y2="201.99" stroke="#1a1a1a" stroke-width="1.1"/>
<line x1="480.09999999999997" y1="217.34" x2="485.3" y2="217.34" stroke="#1a1a1a" stroke-width="1.1"/>
<path d="M481.10,209.21 L482.70,207.81 L484.30,209.21 L482.70,210.61 Z" fill="#5a1a2c"/>
<circle cx="502.30" cy="200.18" r="0.75" fill="#cc4a62"/>
<circle cx="502.30" cy="250.75" r="0.75" fill="#cc4a62"/>
<line x1="502.3" y1="220.95" x2="502.3" y2="237.21" stroke="#2a2226" stroke-width="0.85"/>
<line x1="499.7" y1="220.95" x2="504.90000000000003" y2="220.95" stroke="#1a1a1a" stroke-width="1.1"/>
<line x1="499.7" y1="237.21" x2="504.90000000000003" y2="237.21" stroke="#1a1a1a" stroke-width="1.1"/>
<path d="M500.70,229.08 L502.30,227.68 L503.90,229.08 L502.30,230.48 Z" fill="#5a1a2c"/>
<path d="M395.8,282.40000000000003 L396.1,283.6 L433.0,283.6 L433.3,282.40000000000003" fill="none" stroke="#333" stroke-width="1.1"/>
<text x="414.55" y="294.436" font-size="7.6" fill="#1a1a1a" text-anchor="middle" stroke="#1a1a1a" stroke-width="0.18">HSC</text>
<path d="M434.3,282.40000000000003 L434.6,283.6 L471.59999999999997,283.6 L471.9,282.40000000000003" fill="none" stroke="#333" stroke-width="1.1"/>
<text x="453.1" y="294.436" font-size="7.6" fill="#1a1a1a" text-anchor="middle" stroke="#1a1a1a" stroke-width="0.18">MPP</text>
<path d="M472.9,282.40000000000003 L473.2,283.6 L511.2,283.6 L511.5,282.40000000000003" fill="none" stroke="#333" stroke-width="1.1"/>
<text x="492.2" y="294.436" font-size="7.6" fill="#1a1a1a" text-anchor="middle" stroke="#1a1a1a" stroke-width="0.18">LMPP</text>
<text transform="translate(377.8,219.05) rotate(-90)" x="0" y="0" font-size="6.8" fill="#222" stroke="#222" stroke-width="0.2" text-anchor="middle" textLength="77" lengthAdjust="spacingAndGlyphs">Nucleated cell number (× 10<tspan font-size="4" dy="-2.4">3</tspan><tspan dy="2.4">)</tspan></text>
<line x1="396.9" y1="337.30" x2="396.9" y2="433.50" stroke="#1a1a1a" stroke-width="1.1"/>
<line x1="396.4" y1="432.9" x2="513.3" y2="432.9" stroke="#1a1a1a" stroke-width="1.1"/>
<line x1="394.5" y1="432.90" x2="396.9" y2="432.90" stroke="#333" stroke-width="0.7"/>
<text x="391.9" y="435.2" font-size="6.5" fill="#222" text-anchor="end" stroke="#222" stroke-width="0.15">0</text>
<line x1="394.5" y1="409.60" x2="396.9" y2="409.60" stroke="#333" stroke-width="0.7"/>
<text x="391.9" y="411.9" font-size="6.5" fill="#222" text-anchor="end" stroke="#222" stroke-width="0.15">50</text>
<line x1="394.5" y1="386.30" x2="396.9" y2="386.30" stroke="#333" stroke-width="0.7"/>
<text x="391.9" y="388.59999999999997" font-size="6.5" fill="#222" text-anchor="end" stroke="#222" stroke-width="0.15">100</text>
<line x1="394.5" y1="363.00" x2="396.9" y2="363.00" stroke="#333" stroke-width="0.7"/>
<text x="391.9" y="365.3" font-size="6.5" fill="#222" text-anchor="end" stroke="#222" stroke-width="0.15">150</text>
<line x1="394.5" y1="339.70" x2="396.9" y2="339.70" stroke="#333" stroke-width="0.7"/>
<text x="391.9" y="342.0" font-size="6.5" fill="#222" text-anchor="end" stroke="#222" stroke-width="0.15">200</text>
<line x1="395.59999999999997" y1="432.90" x2="396.9" y2="432.90" stroke="#555" stroke-width="0.5"/>
<line x1="395.59999999999997" y1="428.24" x2="396.9" y2="428.24" stroke="#555" stroke-width="0.5"/>
<line x1="395.59999999999997" y1="423.58" x2="396.9" y2="423.58" stroke="#555" stroke-width="0.5"/>
<line x1="395.59999999999997" y1="418.92" x2="396.9" y2="418.92" stroke="#555" stroke-width="0.5"/>
<line x1="395.59999999999997" y1="414.26" x2="396.9" y2="414.26" stroke="#555" stroke-width="0.5"/>
<line x1="395.59999999999997" y1="409.60" x2="396.9" y2="409.60" stroke="#555" stroke-width="0.5"/>
<line x1="395.59999999999997" y1="404.94" x2="396.9" y2="404.94" stroke="#555" stroke-width="0.5"/>
<line x1="395.59999999999997" y1="400.28" x2="396.9" y2="400.28" stroke="#555" stroke-width="0.5"/>
<line x1="395.59999999999997" y1="395.62" x2="396.9" y2="395.62" stroke="#555" stroke-width="0.5"/>
<line x1="395.59999999999997" y1="390.96" x2="396.9" y2="390.96" stroke="#555" stroke-width="0.5"/>
<line x1="395.59999999999997" y1="386.30" x2="396.9" y2="386.30" stroke="#555" stroke-width="0.5"/>
<line x1="395.59999999999997" y1="381.64" x2="396.9" y2="381.64" stroke="#555" stroke-width="0.5"/>
<line x1="395.59999999999997" y1="376.98" x2="396.9" y2="376.98" stroke="#555" stroke-width="0.5"/>
<line x1="395.59999999999997" y1="372.32" x2="396.9" y2="372.32" stroke="#555" stroke-width="0.5"/>
<line x1="395.59999999999997" y1="367.66" x2="396.9" y2="367.66" stroke="#555" stroke-width="0.5"/>
<line x1="395.59999999999997" y1="363.00" x2="396.9" y2="363.00" stroke="#555" stroke-width="0.5"/>
<line x1="395.59999999999997" y1="358.34" x2="396.9" y2="358.34" stroke="#555" stroke-width="0.5"/>
<line x1="395.59999999999997" y1="353.68" x2="396.9" y2="353.68" stroke="#555" stroke-width="0.5"/>
<line x1="395.59999999999997" y1="349.02" x2="396.9" y2="349.02" stroke="#555" stroke-width="0.5"/>
<line x1="395.59999999999997" y1="344.36" x2="396.9" y2="344.36" stroke="#555" stroke-width="0.5"/>
<line x1="395.59999999999997" y1="339.70" x2="396.9" y2="339.70" stroke="#555" stroke-width="0.5"/>
<line x1="426.2" y1="432.9" x2="426.2" y2="435.29999999999995" stroke="#333" stroke-width="0.7"/>
<text x="426.2" y="443.56" font-size="6.0" fill="#1a1a1a" text-anchor="middle" stroke="#1a1a1a" stroke-width="0.18">WT</text>
<line x1="484.3" y1="432.9" x2="484.3" y2="435.29999999999995" stroke="#333" stroke-width="0.7"/>
<text x="484.3" y="443.56" font-size="6.0" fill="#1a1a1a" text-anchor="middle" stroke="#1a1a1a" stroke-width="0.18">KI</text>
<text x="453.3" y="331.664" font-size="7.4" fill="#1a1a1a" text-anchor="middle" stroke="#1a1a1a" stroke-width="0.2">LK</text>
<line x1="425.4" y1="347.7" x2="485.4" y2="347.7" stroke="#333" stroke-width="1.1"/>
<text x="455.40" y="345.30" font-size="6.0" fill="#222" stroke="#222" stroke-width="0.12" text-anchor="middle"><tspan font-style="italic">P</tspan> = .630</text>
<circle cx="426.20" cy="351.35" r="0.75" fill="#cc4a62"/>
<circle cx="426.20" cy="410.53" r="0.75" fill="#cc4a62"/>
<circle cx="426.20" cy="386.30" r="0.75" fill="#cc4a62"/>
<circle cx="426.20" cy="376.98" r="0.75" fill="#cc4a62"/>
<line x1="426.2" y1="371.85" x2="426.2" y2="391.43" stroke="#2a2226" stroke-width="0.85"/>
<line x1="418.4" y1="371.85" x2="434.0" y2="371.85" stroke="#1a1a1a" stroke-width="1.1"/>
<line x1="418.4" y1="391.43" x2="434.0" y2="391.43" stroke="#1a1a1a" stroke-width="1.1"/>
<path d="M424.60,381.64 L426.20,380.24 L427.80,381.64 L426.20,383.04 Z" fill="#5a1a2c"/>
<circle cx="484.30" cy="367.66" r="0.75" fill="#cc4a62"/>
<circle cx="484.30" cy="400.28" r="0.75" fill="#cc4a62"/>
<circle cx="484.30" cy="410.53" r="0.75" fill="#cc4a62"/>
<circle cx="484.30" cy="386.30" r="0.75" fill="#cc4a62"/>
<circle cx="484.30" cy="391.89" r="0.75" fill="#cc4a62"/>
<line x1="484.3" y1="380.24" x2="484.3" y2="396.09" stroke="#2a2226" stroke-width="0.85"/>
<line x1="477.0" y1="380.24" x2="491.6" y2="380.24" stroke="#1a1a1a" stroke-width="1.1"/>
<line x1="477.0" y1="396.09" x2="491.6" y2="396.09" stroke="#1a1a1a" stroke-width="1.1"/>
<path d="M482.70,388.16 L484.30,386.76 L485.90,388.16 L484.30,389.56 Z" fill="#5a1a2c"/>
<text transform="translate(375.0,384.40) rotate(-90)" x="0" y="0" font-size="6.8" fill="#222" stroke="#222" stroke-width="0.2" text-anchor="middle" textLength="76" lengthAdjust="spacingAndGlyphs">Nucleated cell number (× 10<tspan font-size="4" dy="-2.4">3</tspan><tspan dy="2.4">)</tspan></text>
<line x1="396.9" y1="471.80" x2="396.9" y2="565.00" stroke="#1a1a1a" stroke-width="1.1"/>
<line x1="396.4" y1="564.4" x2="514.6" y2="564.4" stroke="#1a1a1a" stroke-width="1.1"/>
<line x1="394.5" y1="564.40" x2="396.9" y2="564.40" stroke="#333" stroke-width="0.7"/>
<text x="391.9" y="566.6999999999999" font-size="6.5" fill="#222" text-anchor="end" stroke="#222" stroke-width="0.15">0</text>
<line x1="394.5" y1="555.38" x2="396.9" y2="555.38" stroke="#333" stroke-width="0.7"/>
<text x="391.9" y="557.68" font-size="6.5" fill="#222" text-anchor="end" stroke="#222" stroke-width="0.15">10</text>
<line x1="394.5" y1="546.36" x2="396.9" y2="546.36" stroke="#333" stroke-width="0.7"/>
<text x="391.9" y="548.66" font-size="6.5" fill="#222" text-anchor="end" stroke="#222" stroke-width="0.15">20</text>
<line x1="394.5" y1="537.34" x2="396.9" y2="537.34" stroke="#333" stroke-width="0.7"/>
<text x="391.9" y="539.64" font-size="6.5" fill="#222" text-anchor="end" stroke="#222" stroke-width="0.15">30</text>
<line x1="394.5" y1="528.32" x2="396.9" y2="528.32" stroke="#333" stroke-width="0.7"/>
<text x="391.9" y="530.6199999999999" font-size="6.5" fill="#222" text-anchor="end" stroke="#222" stroke-width="0.15">40</text>
<line x1="394.5" y1="519.30" x2="396.9" y2="519.30" stroke="#333" stroke-width="0.7"/>
<text x="391.9" y="521.5999999999999" font-size="6.5" fill="#222" text-anchor="end" stroke="#222" stroke-width="0.15">50</text>
<line x1="394.5" y1="510.28" x2="396.9" y2="510.28" stroke="#333" stroke-width="0.7"/>
<text x="391.9" y="512.5799999999999" font-size="6.5" fill="#222" text-anchor="end" stroke="#222" stroke-width="0.15">60</text>
<line x1="394.5" y1="501.26" x2="396.9" y2="501.26" stroke="#333" stroke-width="0.7"/>
<text x="391.9" y="503.56" font-size="6.5" fill="#222" text-anchor="end" stroke="#222" stroke-width="0.15">70</text>
<line x1="394.5" y1="492.24" x2="396.9" y2="492.24" stroke="#333" stroke-width="0.7"/>
<text x="391.9" y="494.54" font-size="6.5" fill="#222" text-anchor="end" stroke="#222" stroke-width="0.15">80</text>
<line x1="394.5" y1="483.22" x2="396.9" y2="483.22" stroke="#333" stroke-width="0.7"/>
<text x="391.9" y="485.52" font-size="6.5" fill="#222" text-anchor="end" stroke="#222" stroke-width="0.15">90</text>
<line x1="394.5" y1="474.20" x2="396.9" y2="474.20" stroke="#333" stroke-width="0.7"/>
<text x="391.9" y="476.5" font-size="6.5" fill="#222" text-anchor="end" stroke="#222" stroke-width="0.15">100</text>
<line x1="395.59999999999997" y1="564.40" x2="396.9" y2="564.40" stroke="#555" stroke-width="0.5"/>
<line x1="395.59999999999997" y1="559.89" x2="396.9" y2="559.89" stroke="#555" stroke-width="0.5"/>
<line x1="395.59999999999997" y1="555.38" x2="396.9" y2="555.38" stroke="#555" stroke-width="0.5"/>
<line x1="395.59999999999997" y1="550.87" x2="396.9" y2="550.87" stroke="#555" stroke-width="0.5"/>
<line x1="395.59999999999997" y1="546.36" x2="396.9" y2="546.36" stroke="#555" stroke-width="0.5"/>
<line x1="395.59999999999997" y1="541.85" x2="396.9" y2="541.85" stroke="#555" stroke-width="0.5"/>
<line x1="395.59999999999997" y1="537.34" x2="396.9" y2="537.34" stroke="#555" stroke-width="0.5"/>
<line x1="395.59999999999997" y1="532.83" x2="396.9" y2="532.83" stroke="#555" stroke-width="0.5"/>
<line x1="395.59999999999997" y1="528.32" x2="396.9" y2="528.32" stroke="#555" stroke-width="0.5"/>
<line x1="395.59999999999997" y1="523.81" x2="396.9" y2="523.81" stroke="#555" stroke-width="0.5"/>
<line x1="395.59999999999997" y1="519.30" x2="396.9" y2="519.30" stroke="#555" stroke-width="0.5"/>
<line x1="395.59999999999997" y1="514.79" x2="396.9" y2="514.79" stroke="#555" stroke-width="0.5"/>
<line x1="395.59999999999997" y1="510.28" x2="396.9" y2="510.28" stroke="#555" stroke-width="0.5"/>
<line x1="395.59999999999997" y1="505.77" x2="396.9" y2="505.77" stroke="#555" stroke-width="0.5"/>
<line x1="395.59999999999997" y1="501.26" x2="396.9" y2="501.26" stroke="#555" stroke-width="0.5"/>
<line x1="395.59999999999997" y1="496.75" x2="396.9" y2="496.75" stroke="#555" stroke-width="0.5"/>
<line x1="395.59999999999997" y1="492.24" x2="396.9" y2="492.24" stroke="#555" stroke-width="0.5"/>
<line x1="395.59999999999997" y1="487.73" x2="396.9" y2="487.73" stroke="#555" stroke-width="0.5"/>
<line x1="395.59999999999997" y1="483.22" x2="396.9" y2="483.22" stroke="#555" stroke-width="0.5"/>
<line x1="395.59999999999997" y1="478.71" x2="396.9" y2="478.71" stroke="#555" stroke-width="0.5"/>
<line x1="395.59999999999997" y1="474.20" x2="396.9" y2="474.20" stroke="#555" stroke-width="0.5"/>
<line x1="406.5" y1="564.4" x2="406.5" y2="566.8" stroke="#333" stroke-width="0.7"/>
<text x="406.5" y="576.936" font-size="7.6" fill="#1a1a1a" text-anchor="middle" stroke="#1a1a1a" stroke-width="0.18">WT</text>
<line x1="425.7" y1="564.4" x2="425.7" y2="566.8" stroke="#333" stroke-width="0.7"/>
<text x="425.7" y="576.936" font-size="7.6" fill="#1a1a1a" text-anchor="middle" stroke="#1a1a1a" stroke-width="0.18">KI</text>
<line x1="445.8" y1="564.4" x2="445.8" y2="566.8" stroke="#333" stroke-width="0.7"/>
<text x="445.8" y="576.936" font-size="7.6" fill="#1a1a1a" text-anchor="middle" stroke="#1a1a1a" stroke-width="0.18">WT</text>
<line x1="464.9" y1="564.4" x2="464.9" y2="566.8" stroke="#333" stroke-width="0.7"/>
<text x="464.9" y="576.936" font-size="7.6" fill="#1a1a1a" text-anchor="middle" stroke="#1a1a1a" stroke-width="0.18">KI</text>
<line x1="483.9" y1="564.4" x2="483.9" y2="566.8" stroke="#333" stroke-width="0.7"/>
<text x="483.9" y="576.936" font-size="7.6" fill="#1a1a1a" text-anchor="middle" stroke="#1a1a1a" stroke-width="0.18">WT</text>
<line x1="503.5" y1="564.4" x2="503.5" y2="566.8" stroke="#333" stroke-width="0.7"/>
<text x="503.5" y="576.936" font-size="7.6" fill="#1a1a1a" text-anchor="middle" stroke="#1a1a1a" stroke-width="0.18">KI</text>
<text x="453.5" y="466.792" font-size="7.2" fill="#1a1a1a" text-anchor="middle" stroke="#1a1a1a" stroke-width="0.2">CMP / MEP / GMP</text>
<line x1="405.8" y1="517.8" x2="426.6" y2="517.8" stroke="#333" stroke-width="1.1"/>
<text x="416.20" y="515.40" font-size="6.0" fill="#222" stroke="#222" stroke-width="0.12" text-anchor="middle"><tspan font-style="italic">P</tspan> = .343</text>
<line x1="445.3" y1="542.7" x2="468.8" y2="542.7" stroke="#333" stroke-width="1.1"/>
<text x="457.05" y="540.30" font-size="6.0" fill="#222" stroke="#222" stroke-width="0.12" text-anchor="middle"><tspan font-style="italic">P</tspan> = .960</text>
<line x1="486.2" y1="490.3" x2="508.5" y2="490.3" stroke="#333" stroke-width="1.1"/>
<text x="497.35" y="487.90" font-size="6.0" fill="#222" stroke="#222" stroke-width="0.12" text-anchor="middle"><tspan font-style="italic">P</tspan> = .546</text>
<circle cx="406.50" cy="528.86" r="0.75" fill="#cc4a62"/>
<circle cx="406.50" cy="555.38" r="0.75" fill="#cc4a62"/>
<circle cx="406.50" cy="541.85" r="0.75" fill="#cc4a62"/>
<circle cx="406.50" cy="545.46" r="0.75" fill="#cc4a62"/>
<line x1="406.5" y1="539.14" x2="406.5" y2="547.89" stroke="#2a2226" stroke-width="0.85"/>
<line x1="403.7" y1="539.14" x2="409.3" y2="539.14" stroke="#1a1a1a" stroke-width="1.1"/>
<line x1="403.7" y1="547.89" x2="409.3" y2="547.89" stroke="#1a1a1a" stroke-width="1.1"/>
<path d="M404.90,543.29 L406.50,541.89 L408.10,543.29 L406.50,544.69 Z" fill="#5a1a2c"/>
<circle cx="425.70" cy="539.14" r="0.75" fill="#cc4a62"/>
<circle cx="425.70" cy="556.28" r="0.75" fill="#cc4a62"/>
<circle cx="425.70" cy="553.58" r="0.75" fill="#cc4a62"/>
<circle cx="425.70" cy="547.26" r="0.75" fill="#cc4a62"/>
<circle cx="425.70" cy="545.46" r="0.75" fill="#cc4a62"/>
<line x1="425.7" y1="545.46" x2="425.7" y2="552.31" stroke="#2a2226" stroke-width="0.85"/>
<line x1="422.9" y1="545.46" x2="428.5" y2="545.46" stroke="#1a1a1a" stroke-width="1.1"/>
<line x1="422.9" y1="552.31" x2="428.5" y2="552.31" stroke="#1a1a1a" stroke-width="1.1"/>
<path d="M424.10,548.43 L425.70,547.03 L427.30,548.43 L425.70,549.83 Z" fill="#5a1a2c"/>
<circle cx="445.80" cy="549.52" r="0.75" fill="#cc4a62"/>
<circle cx="445.80" cy="559.26" r="0.75" fill="#cc4a62"/>
<circle cx="445.80" cy="553.58" r="0.75" fill="#cc4a62"/>
<circle cx="445.80" cy="552.22" r="0.75" fill="#cc4a62"/>
<line x1="445.8" y1="551.41" x2="445.8" y2="554.66" stroke="#2a2226" stroke-width="0.85"/>
<line x1="443.0" y1="551.41" x2="448.6" y2="551.41" stroke="#1a1a1a" stroke-width="1.1"/>
<line x1="443.0" y1="554.66" x2="448.6" y2="554.66" stroke="#1a1a1a" stroke-width="1.1"/>
<path d="M444.20,552.94 L445.80,551.54 L447.40,552.94 L445.80,554.34 Z" fill="#5a1a2c"/>
<circle cx="464.90" cy="549.97" r="0.75" fill="#cc4a62"/>
<circle cx="464.90" cy="558.99" r="0.75" fill="#cc4a62"/>
<circle cx="464.90" cy="553.12" r="0.75" fill="#cc4a62"/>
<circle cx="464.90" cy="551.77" r="0.75" fill="#cc4a62"/>
<line x1="464.9" y1="551.59" x2="464.9" y2="555.02" stroke="#2a2226" stroke-width="0.85"/>
<line x1="462.09999999999997" y1="551.59" x2="467.7" y2="551.59" stroke="#1a1a1a" stroke-width="1.1"/>
<line x1="462.09999999999997" y1="555.02" x2="467.7" y2="555.02" stroke="#1a1a1a" stroke-width="1.1"/>
<path d="M463.30,553.40 L464.90,552.00 L466.50,553.40 L464.90,554.80 Z" fill="#5a1a2c"/>
<circle cx="483.90" cy="496.93" r="0.75" fill="#cc4a62"/>
<circle cx="483.90" cy="545.64" r="0.75" fill="#cc4a62"/>
<circle cx="483.90" cy="524.71" r="0.75" fill="#cc4a62"/>
<line x1="483.9" y1="515.51" x2="483.9" y2="531.93" stroke="#2a2226" stroke-width="0.85"/>
<line x1="481.09999999999997" y1="515.51" x2="486.7" y2="515.51" stroke="#1a1a1a" stroke-width="1.1"/>
<line x1="481.09999999999997" y1="531.93" x2="486.7" y2="531.93" stroke="#1a1a1a" stroke-width="1.1"/>
<path d="M482.30,523.81 L483.90,522.41 L485.50,523.81 L483.90,525.21 Z" fill="#5a1a2c"/>
<circle cx="503.50" cy="512.08" r="0.75" fill="#cc4a62"/>
<circle cx="503.50" cy="544.56" r="0.75" fill="#cc4a62"/>
<circle cx="503.50" cy="539.14" r="0.75" fill="#cc4a62"/>
<circle cx="503.50" cy="528.32" r="0.75" fill="#cc4a62"/>
<circle cx="503.50" cy="524.71" r="0.75" fill="#cc4a62"/>
<line x1="503.5" y1="523.81" x2="503.5" y2="535.72" stroke="#2a2226" stroke-width="0.85"/>
<line x1="500.7" y1="523.81" x2="506.3" y2="523.81" stroke="#1a1a1a" stroke-width="1.1"/>
<line x1="500.7" y1="535.72" x2="506.3" y2="535.72" stroke="#1a1a1a" stroke-width="1.1"/>
<path d="M501.90,529.49 L503.50,528.09 L505.10,529.49 L503.50,530.89 Z" fill="#5a1a2c"/>
<path d="M397.2,581.0999999999999 L397.5,582.3 L434.4,582.3 L434.7,581.0999999999999" fill="none" stroke="#333" stroke-width="1.1"/>
<text x="415.95" y="593.136" font-size="7.6" fill="#1a1a1a" text-anchor="middle" stroke="#1a1a1a" stroke-width="0.18">CMP</text>
<path d="M435.7,581.0999999999999 L436.0,582.3 L474.0,582.3 L474.3,581.0999999999999" fill="none" stroke="#333" stroke-width="1.1"/>
<text x="455.0" y="593.136" font-size="7.6" fill="#1a1a1a" text-anchor="middle" stroke="#1a1a1a" stroke-width="0.18">MEP</text>
<path d="M475.3,581.0999999999999 L475.6,582.3 L513.8000000000001,582.3 L514.1,581.0999999999999" fill="none" stroke="#333" stroke-width="1.1"/>
<text x="494.70000000000005" y="593.136" font-size="7.6" fill="#1a1a1a" text-anchor="middle" stroke="#1a1a1a" stroke-width="0.18">GMP</text>
<text transform="translate(374.5,519.30) rotate(-90)" x="0" y="0" font-size="6.8" fill="#222" stroke="#222" stroke-width="0.2" text-anchor="middle" textLength="81" lengthAdjust="spacingAndGlyphs">Nucleated cell number (× 10<tspan font-size="4" dy="-2.4">3</tspan><tspan dy="2.4">)</tspan></text>
<rect x="0.5" y="0.5" width="519" height="600" fill="none" stroke="#666" stroke-width="1.2"/>
</svg></body></html>
